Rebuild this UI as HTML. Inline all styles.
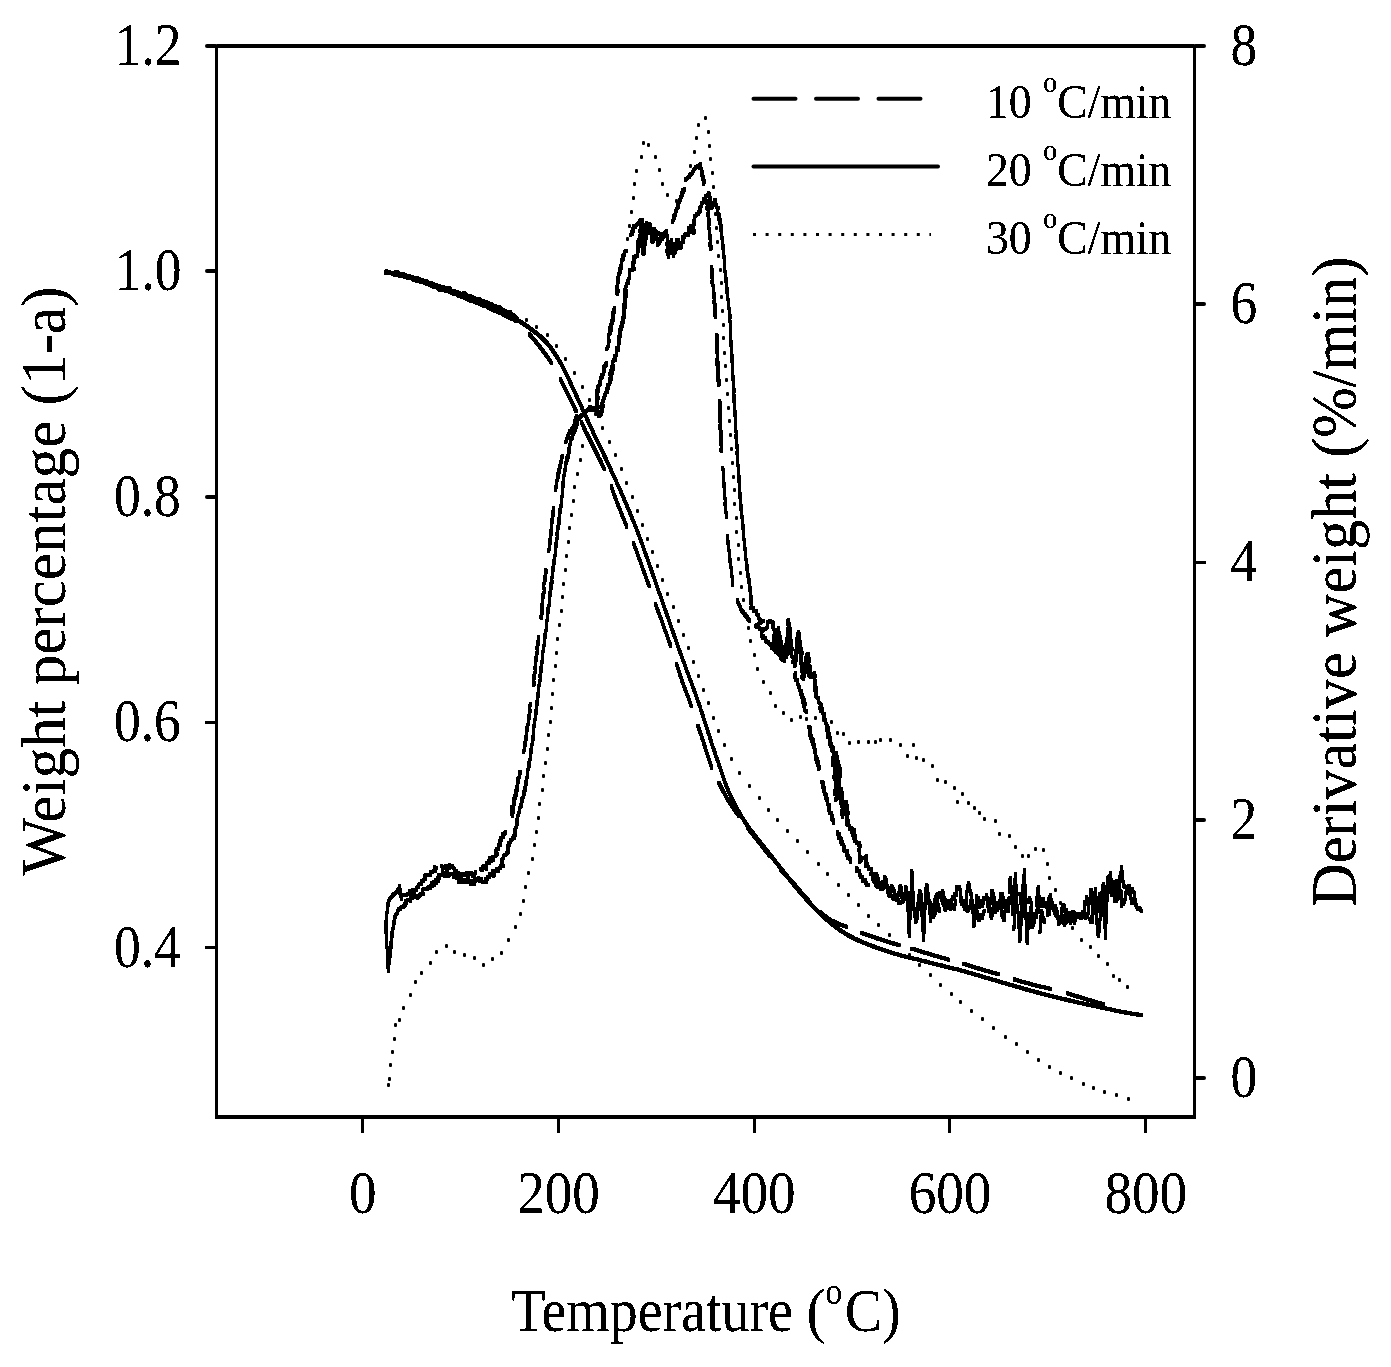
<!DOCTYPE html>
<html><head><meta charset="utf-8"><title>TG/DTG</title>
<style>
html,body{margin:0;padding:0;background:#fff;}
body{width:1391px;height:1367px;overflow:hidden;font-family:"Liberation Serif",serif;}
svg{display:block}
</style></head><body>
<svg width="1391" height="1367" viewBox="0 0 1391 1367">
<rect width="1391" height="1367" fill="#fff"/>
<g stroke="#000" fill="none" stroke-linecap="butt">
<line x1="216.5" y1="46.0" x2="216.5" y2="1119.0" stroke-width="3"/>
<line x1="1194.5" y1="46.0" x2="1194.5" y2="1119.0" stroke-width="3"/>
<line x1="215.0" y1="1117.0" x2="1196.0" y2="1117.0" stroke-width="4"/>
<line x1="216.5" y1="46.0" x2="1194.5" y2="46.0" stroke-width="4"/>
</g>
<g stroke="#000">
<line x1="207" y1="46" x2="215.5" y2="46" stroke-width="4" stroke-linecap="round"/>
<line x1="207" y1="271" x2="215.5" y2="271" stroke-width="4" stroke-linecap="round"/>
<line x1="207" y1="497" x2="215.5" y2="497" stroke-width="4" stroke-linecap="round"/>
<line x1="205" y1="722.5" x2="215.5" y2="722.5" stroke-width="3"/>
<line x1="205" y1="947.5" x2="215.5" y2="947.5" stroke-width="3"/>
<line x1="1195.5" y1="46" x2="1204" y2="46" stroke-width="4" stroke-linecap="round"/>
<line x1="1195.5" y1="304" x2="1204" y2="304" stroke-width="4" stroke-linecap="round"/>
<line x1="1195.5" y1="562.5" x2="1206" y2="562.5" stroke-width="3"/>
<line x1="1195.5" y1="820" x2="1204" y2="820" stroke-width="4" stroke-linecap="round"/>
<line x1="1195.5" y1="1078" x2="1204" y2="1078" stroke-width="4" stroke-linecap="round"/>
</g>
<g stroke="#000" stroke-width="3" stroke-linecap="butt">
<line x1="362.5" y1="1117.0" x2="362.5" y2="1133"/>
<line x1="558.5" y1="1117.0" x2="558.5" y2="1133"/>
<line x1="754.5" y1="1117.0" x2="754.5" y2="1133"/>
<line x1="949.5" y1="1117.0" x2="949.5" y2="1133"/>
<line x1="1145.5" y1="1117.0" x2="1145.5" y2="1133"/>
</g>
<defs><filter id="bw" x="0" y="0" width="100%" height="100%" filterUnits="userSpaceOnUse" color-interpolation-filters="sRGB"><feComponentTransfer><feFuncA type="discrete" tableValues="0 0 1 1 1"/></feComponentTransfer></filter></defs>
<g font-family="'Liberation Serif', serif" fill="#000" filter="url(#bw)">
<text transform="translate(181.5,64.7) scale(0.883,1)" font-size="60.5" text-anchor="end" >1.2</text>
<text transform="translate(181.5,290.1499999999999) scale(0.883,1)" font-size="60.5" text-anchor="end" >1.0</text>
<text transform="translate(180.7,515.5999999999999) scale(0.883,1)" font-size="60.5" text-anchor="end" >0.8</text>
<text transform="translate(180.7,741.05) scale(0.883,1)" font-size="60.5" text-anchor="end" >0.6</text>
<text transform="translate(180.7,966.4999999999999) scale(0.883,1)" font-size="60.5" text-anchor="end" >0.4</text>
<text transform="translate(1230.5,64.6) scale(0.883,1)" font-size="60.5" text-anchor="start" >8</text>
<text transform="translate(1230.5,322.6) scale(0.883,1)" font-size="60.5" text-anchor="start" >6</text>
<text transform="translate(1230.5,580.6) scale(0.883,1)" font-size="60.5" text-anchor="start" >4</text>
<text transform="translate(1230.5,838.6) scale(0.883,1)" font-size="60.5" text-anchor="start" >2</text>
<text transform="translate(1230.5,1096.6) scale(0.883,1)" font-size="60.5" text-anchor="start" >0</text>
<text transform="translate(362.8,1213) scale(0.912,1)" font-size="60.5" text-anchor="middle" >0</text>
<text transform="translate(558.55,1213) scale(0.912,1)" font-size="60.5" text-anchor="middle" >200</text>
<text transform="translate(754.3,1213) scale(0.912,1)" font-size="60.5" text-anchor="middle" >400</text>
<text transform="translate(950.05,1213) scale(0.912,1)" font-size="60.5" text-anchor="middle" >600</text>
<text transform="translate(1145.8,1213) scale(0.912,1)" font-size="60.5" text-anchor="middle" >800</text>
<text transform="translate(706,1331) scale(0.9016,1)" font-size="62" text-anchor="middle">Temperature (<tspan font-size="37" dy="-27.0">o</tspan><tspan dy="27.0" dx="3.0">C)</tspan></text>
<text transform="translate(65,581) rotate(-90) scale(0.97,1)" font-size="63" text-anchor="middle">Weight percentage (1-a)</text>
<text transform="translate(1355.5,581.75) rotate(-90) scale(0.958,1)" font-size="63" text-anchor="middle">Derivative weight (%/min)</text>
<text transform="translate(986,118) scale(0.944,1)" font-size="48.4">10 <tspan font-size="30" dy="-25.8">o</tspan><tspan dy="25.8" dx="0">C/min</tspan></text>
<text transform="translate(986,186) scale(0.944,1)" font-size="48.4">20 <tspan font-size="30" dy="-25.8">o</tspan><tspan dy="25.8" dx="0">C/min</tspan></text>
<text transform="translate(986,254) scale(0.944,1)" font-size="48.4">30 <tspan font-size="30" dy="-25.8">o</tspan><tspan dy="25.8" dx="0">C/min</tspan></text>
</g>
<g stroke="#000" fill="none">
<line x1="753.5" y1="98.7" x2="922" y2="98.7" stroke-width="4" stroke-linecap="round" stroke-dasharray="42 20.5"/>
<line x1="753.5" y1="166.5" x2="938" y2="166.5" stroke-width="4" stroke-linecap="round"/>
<line x1="753" y1="234.6" x2="931" y2="234.6" stroke-width="3" stroke-linecap="butt" stroke-dasharray="3 9.6"/>
</g>
<defs><g id="cv" fill="none" stroke="#000" stroke-width="1" stroke-linejoin="round" stroke-linecap="butt" shape-rendering="crispEdges">
<path d="M385.4 271.7 L387.4 272.2 L389.5 272.6 L391.5 273.1 L393.5 273.6 L395.6 274 L397.6 274.4 L399.7 274.9 L401.7 275.4 L403.7 275.8 L405.8 276.3 L407.8 276.8 L409.8 277.4 L411.9 277.9 L413.9 278.5 L415.9 279.1 L417.8 279.7 L419.8 280.3 L421.7 281 L423.7 281.7 L425.6 282.4 L427.6 283.1 L429.5 283.8 L431.5 284.5 L433.4 285.2 L435.4 286 L437.3 286.7 L439.3 287.4 L441.2 288.1 L443.2 288.8 L445.2 289.5 L447.1 290.2 L449.1 290.8 L451.1 291.5 L453.1 292.2 L455.1 292.9 L457.1 293.6 L459.1 294.3 L461 294.9 L463 295.6 L464.9 296.3 L466.8 297 L468.7 297.6 L470.6 298.3 L472.4 299 L474.5 299.8 L476.6 300.6 L478.6 301.3 L480.6 302.1 L482.6 302.8 L484.6 303.6 L486.5 304.4 L488.5 305.2 L490.4 306 L492.4 306.9 L494.4 307.8 L496.2 308.7 L498.1 309.5 L499.9 310.5 L501.8 311.4 L503.7 312.4 L505.6 313.4 L507.5 314.4 L509.3 315.4 L511.1 316.4 L512.9 317.4 L514.6 318.3 L516.2 319.3 L517.8 320.2 L519.9 321.5 L521.9 322.7 L523.7 323.9 L525.5 325.1 L527.3 326.3 L529.1 327.6 L530.9 329 L532.5 330.2 L534.2 331.5 L535.9 332.8 L537.6 334.2 L539.3 335.6 L540.9 337 L542.5 338.5 L544.1 340 L545.6 341.5 L547 343.1 L548.4 344.7 L549.7 346.4 L551 348.1 L552.3 349.9 L553.5 351.6 L554.7 353.4 L555.9 355.2 L557 357 L558.1 358.8 L559.2 360.6 L560.3 362.5 L561.3 364.4 L562.3 366.3 L563.3 368.2 L564.2 370 L565.1 371.8 L566 373.5 L566.9 375.4 L567.8 377.1 L568.6 378.8 L569.4 380.6 L570.2 382.4 L571.2 384.5 L572 386.1 L572.8 387.8 L573.6 389.7 L574.5 391.6 L575.4 393.6 L576.3 395.6 L577.3 397.7 L578.2 399.8 L579.2 401.9 L580.2 403.9 L581.1 406 L582 408 L582.9 409.9 L583.8 411.8 L584.6 413.7 L585.5 415.5 L586.3 417.4 L587.1 419.2 L588 421 L588.8 422.9 L589.6 424.7 L590.5 426.6 L591.4 428.5 L592.3 430.4 L593.2 432.4 L594 434.2 L594.9 436 L595.8 437.8 L596.7 439.7 L597.6 441.6 L598.5 443.5 L599.4 445.4 L600.3 447.4 L601.3 449.3 L602.2 451.3 L603.2 453.2 L604.1 455.2 L605 457.1 L606 459.1 L606.9 461.1 L607.8 463 L608.7 464.9 L609.5 466.7 L610.4 468.6 L611.3 470.5 L612.1 472.4 L613 474.3 L613.9 476.2 L614.7 478.1 L615.6 480 L616.5 481.9 L617.3 483.8 L618.2 485.7 L619 487.6 L619.9 489.5 L620.7 491.4 L621.6 493.4 L622.4 495.3 L623.2 497.2 L624 499 L624.8 500.9 L625.6 502.8 L626.5 504.7 L627.3 506.6 L628.1 508.5 L628.9 510.4 L629.7 512.3 L630.5 514.2 L631.3 516.1 L632 518 L632.8 519.9 L633.6 521.8 L634.4 523.7 L635.1 525.5 L635.9 527.4 L636.6 529.3 L637.3 531.2 L638.1 533.1 L638.8 535 L639.5 536.9 L640.2 538.8 L640.9 540.7 L641.6 542.6 L642.3 544.5 L643 546.4 L643.7 548.3 L644.3 550.2 L645 552.1 L645.7 554 L646.3 555.8 L647 557.7 L647.6 559.5 L648.3 561.4 L649 563.4 L649.7 565.4 L650.4 567.3 L651.1 569.3 L651.8 571.3 L652.4 573.2 L653.1 575.2 L653.8 577.1 L654.5 579 L655.1 581 L655.8 582.9 L656.5 584.9 L657.1 586.8 L657.8 588.7 L658.5 590.7 L659.2 592.7 L659.9 594.6 L660.6 596.6 L661.2 598.5 L661.9 600.5 L662.6 602.4 L663.3 604.4 L664 606.3 L664.7 608.3 L665.4 610.2 L666.1 612.2 L666.7 614.1 L667.4 616.1 L668.1 618 L668.8 620 L669.5 621.9 L670.2 623.9 L670.8 625.9 L671.5 627.8 L672.2 629.8 L672.9 631.7 L673.6 633.7 L674.2 635.6 L674.9 637.6 L675.6 639.5 L676.3 641.5 L676.9 643.4 L677.6 645.3 L678.3 647.3 L679 649.2 L679.7 651.2 L680.4 653.2 L681.2 655.2 L681.9 657.2 L682.6 659.2 L683.4 661.2 L684.1 663.1 L684.8 665.1 L685.6 667.1 L686.3 669.1 L687 671.1 L687.7 673 L688.5 675 L689.2 677 L689.9 679 L690.7 681 L691.4 682.9 L692.1 684.9 L692.8 686.9 L693.6 688.9 L694.3 690.8 L695 692.8 L695.7 694.8 L696.4 696.8 L697.2 698.8 L697.9 700.8 L698.6 702.8 L699.3 704.9 L700 706.8 L700.6 708.8 L701.2 710.7 L701.9 712.7 L702.5 714.6 L703.2 716.6 L703.8 718.6 L704.4 720.6 L705.1 722.6 L705.7 724.6 L706.3 726.6 L706.9 728.6 L707.6 730.6 L708.2 732.6 L708.9 734.5 L709.5 736.5 L710.2 738.5 L710.9 740.6 L711.5 742.7 L712.2 744.7 L712.9 746.8 L713.6 748.8 L714.3 750.9 L715 752.9 L715.6 755 L716.3 757 L717 759 L717.7 761 L718.4 762.9 L719 764.9 L719.7 766.8 L720.4 768.9 L721.2 771.1 L721.9 773.2 L722.6 775.2 L723.3 777.3 L724 779.3 L724.7 781.4 L725.4 783.4 L726.2 785.4 L726.9 787.3 L727.7 789.3 L728.5 791.2 L729.4 793.2 L730.2 795.1 L731.1 797 L732.1 799 L733 800.8 L733.9 802.7 L734.9 804.6 L735.9 806.4 L736.8 808.2 L737.8 810 L738.8 811.7 L739.9 813.6 L741 815.5 L742.1 817.3 L743.2 819.1 L744.3 820.9 L745.5 822.6 L746.6 824.3 L747.8 826.1 L749 827.8 L750.2 829.5 L751.5 831.2 L752.8 832.9 L754.1 834.5 L755.4 836.2 L756.7 837.9 L758.1 839.5 L759.4 841.1 L760.7 842.8 L762 844.4 L763.3 846.1 L764.6 847.7 L765.9 849.4 L767.2 851 L768.5 852.6 L769.8 854.3 L771.1 855.9 L772.4 857.6 L773.7 859.3 L775.1 861 L776.4 862.7 L777.7 864.4 L779.1 866.2 L780.4 867.9 L781.8 869.7 L783.2 871.4 L784.6 873.2 L785.9 874.8 L787.2 876.4 L788.5 878.1 L789.8 879.7 L791.2 881.4 L792.5 883 L793.9 884.7 L795.2 886.4 L796.6 888 L797.9 889.6 L799.3 891.2 L800.7 892.9 L802.2 894.5 L803.6 896.2 L805.1 897.8 L806.5 899.4 L808 901 L809.5 902.6 L810.9 904.2 L812.4 905.8 L813.9 907.3 L815.3 908.8 L816.8 910.2 L818.2 911.7 L819.7 913.1 L821.1 914.5 L822.6 915.9 L824 917.3 L825.5 918.6 L827 919.9 L828.5 921.2 L830.1 922.5 L831.7 923.8 L833.3 925.1 L834.9 926.4 L836.6 927.6 L838.2 928.8 L839.9 930 L841.5 931.1 L843.2 932.2 L845 933.3 L846.8 934.4 L848.6 935.5 L850.4 936.5 L852.3 937.4 L854.1 938.4 L856 939.3 L857.8 940.2 L859.9 941.1 L861.9 942 L864 942.9 L866.1 943.7 L868.2 944.5 L870.3 945.3 L872.4 946.1 L874.5 946.9 L876.6 947.6 L878.6 948.4 L880.7 949.1 L882.8 949.8 L884.9 950.5 L887 951.2 L889.1 951.9 L891.2 952.5 L893.3 953.2 L895.4 953.8 L897.5 954.4 L899.6 955 L901.7 955.6 L903.8 956.2 L905.9 956.7 L908 957.2 L910 957.7 L912.1 958.2 L914.2 958.7 L916.3 959.2 L918.4 959.7 L920.5 960.3 L922.6 960.8 L924.6 961.3 L926.7 961.8 L928.8 962.4 L930.9 962.9 L933 963.4 L935.1 964 L937.2 964.5 L939.3 965 L941.4 965.5 L943.5 966.1 L945.6 966.6 L947.7 967.1 L949.7 967.6 L951.8 968.1 L953.8 968.6 L955.9 969.1 L958 969.6 L960.2 970.2 L962 970.7 L963.8 971.2 L965.7 971.7 L967.6 972.3 L969.5 972.8 L971.4 973.4 L973.4 974 L975.4 974.6 L977.5 975.2 L979.6 975.8 L981.4 976.3 L983.2 976.9 L985.1 977.4 L987 978 L988.9 978.5 L990.9 979.1 L992.9 979.7 L994.9 980.3 L996.9 980.9 L998.9 981.5 L1000.9 982.1 L1002.9 982.7 L1004.9 983.3 L1006.9 983.8 L1008.9 984.4 L1010.9 985 L1012.8 985.5 L1014.8 986.1 L1016.7 986.7 L1018.7 987.2 L1020.6 987.8 L1022.6 988.3 L1024.5 988.9 L1026.5 989.5 L1028.4 990 L1030.4 990.6 L1032.3 991.1 L1034.3 991.6 L1036.2 992.2 L1038.2 992.7 L1040.1 993.2 L1042.1 993.7 L1044 994.2 L1046 994.7 L1047.9 995.2 L1049.9 995.7 L1051.8 996.2 L1053.8 996.7 L1055.7 997.2 L1057.7 997.7 L1059.6 998.1 L1061.6 998.6 L1063.5 999.1 L1065.5 999.5 L1067.4 1000 L1069.5 1000.5 L1071.6 1001 L1073.6 1001.5 L1075.7 1001.9 L1077.8 1002.4 L1079.9 1002.9 L1082 1003.3 L1084.1 1003.8 L1086.2 1004.2 L1088.2 1004.7 L1090.3 1005.1 L1092.4 1005.6 L1094.5 1006.1 L1096.6 1006.5 L1098.6 1006.9 L1100.6 1007.4 L1102.6 1007.8 L1104.7 1008.2 L1106.7 1008.7 L1108.8 1009.1 L1110.8 1009.5 L1112.9 1010 L1114.9 1010.4 L1116.8 1010.8 L1118.8 1011.2 L1120.7 1011.6 L1122.5 1011.9 L1124.3 1012.3 L1126 1012.6 L1128.2 1013 L1130.3 1013.4 L1132.3 1013.7 L1134.3 1014 L1136.2 1014.3 L1138.1 1014.6 L1140 1014.9 L1142 1015.2" stroke-linecap="butt"/>
<path d="M385.7 270.8 L387.8 271.1 L389.7 272 L391.9 272.1 L394 272.4 L396.6 271.3 L398.4 272.5 L400 274.1 L402.6 273 L404.2 274.5 L406.2 275.2 L408.2 275.9 L410.4 276 L412.3 276.8 L414.2 277.7 L416.5 277.5 L418.3 278.4 L420.2 279.1 L422.3 279.6 L424.1 280.5 L426.5 280.1 L428 282.1 L429.9 282.8 L432.1 282.8 L433.9 283.9 L435.8 284.8 L437.9 285.1 L439.8 286 L441.8 286.6 L443.9 286.9 L445.7 288 L448.1 287.8 L450.2 288.1 L451.6 290.2 L453.8 290.4 L455.7 291.3 L457.7 291.9 L459.7 292.6 L461.6 293.6 L464.2 292.5 L465.8 294.1 L467.5 295.4 L469.4 295.9 L471.5 296 L473.1 297.3 L475.1 298.2 L477.6 298.1 L479.6 298.8 L481.3 300.3 L483.6 300.4 L485.3 301.8 L487.5 302 L489.3 303.1 L491.3 303.9 L493.2 304.9 L495.2 305.8 L497.1 306.4 L499.2 306.7 L500.9 308.1 L502.7 309.2 L504.6 310.1 L506.5 311 L508.4 311.9 L510.8 311.5 L511.9 314.4 L513.8 315 L515.4 316.3 L516.8 317.8 L518.4 318.7 L517.1 322 L515.5 321.2 L514 319.9 L512.1 319.4 L510.3 318.5 L508.3 317.9 L506.5 316.9 L504.6 316 L502.9 314.6 L501 313.6 L498.9 313.2 L497.1 312 L495.1 311.6 L493.3 310.6 L491.4 309.6 L489.5 308.5 L487.4 307.9 L485.8 306.3 L483.6 306.2 L481.7 305.1 L479.8 304.3 L477.9 303.1 L475.7 303 L473.8 301.6 L471.3 301.8 L469.7 300.6 L467.9 299.9 L466.1 298.9 L464.3 297.9 L462.3 297.5 L460.3 296.8 L458.3 296.3 L456.6 294.9 L454.3 294.9 L452.5 293.7 L450.6 292.8 L448.7 292 L446.6 291.5 L444.7 290.7 L442.5 290.7 L440.2 290.7 L438.5 289.3 L436.9 287.7 L434.9 287.2 L432.7 287.1 L431 285.7 L429 285.2 L427.1 284.4 L425.3 283.3 L423.3 282.6 L421.1 282.6 L419.4 281.2 L417.2 281.3 L415.3 280.5 L413.3 280 L411.5 278.8 L409.2 279 L407.3 278 L405.2 277.7 L403.4 276.8 L401.4 276.1 L399.2 276.1 L397.3 275.4 L395 275.4 L393.1 274.7 L391.2 273.8 L389.2 273.3 L387.2 272.8 L384.6 273.8Z" fill="#000" stroke="none"/>
<path d="M386.4 271.9 L388.3 272.4 L390.3 272.8 L392.3 273.3 L394.2 273.7 L396.2 274.1 L398.2 274.6 L400.1 275 L401.1 275.2 M417.7 279.7 L419.6 280.3 L421.5 280.9 L423.4 281.6 L425.2 282.2 L427.1 282.9 L429 283.6 L430.9 284.3 L432.8 285 L434.7 285.7 L436.6 286.4 L438.5 287.1 L440.4 287.8 L442.3 288.5 L444.2 289.1 L446.1 289.8 L448.1 290.5 L450.1 291.2 L452.1 291.9 L454.1 292.6 L456.1 293.2 L458.1 293.9 L459.1 294.3 M475.4 300.1 L477.4 300.9 L479.3 301.6 L481.2 302.3 L483.1 303 L485 303.7 L486.9 304.5 L488.7 305.3 L490.6 306.1 L492.5 306.9 L494.4 307.8 L496.2 308.7 L498.1 309.6 L500 310.5 L502 311.4 L503.9 312.4 L505.9 313.4 L507.8 314.4 L509.6 315.4 L511.4 316.5 L513.2 317.5 L514.8 318.6 L516.4 319.7 L517.1 320.2 M528.6 333.3 L530 334.8 L531.3 336.4 L532.6 337.9 L534 339.5 L535.3 341.1 L536.7 342.8 L538 344.5 L539.3 346.1 L540.6 347.8 L541.8 349.4 L543.1 351.1 L544.3 352.8 L545.6 354.5 L546.8 356.2 L548.1 357.9 L549.2 359.6 L550.4 361.3 L551.5 363 L552 363.8 M560.2 379.1 L561.1 380.8 L562 382.6 L563 384.4 L563.9 386.2 L564.8 388.1 L565.7 389.9 L566.7 391.8 L567.6 393.7 L568.5 395.6 L569.5 397.4 L570.4 399.3 L571.3 401.2 L572.2 403.2 L573.2 405.1 L574.1 407.1 L575 409 L575.9 410.9 L576.4 411.8 M581.1 421.8 L581.9 423.6 L582.8 425.3 L583.6 427.1 L584.5 429 L585.4 430.8 L586.2 432.5 L587.1 434.3 L588 436.1 L588.9 437.9 L589.9 439.7 L590.8 441.6 L591.8 443.5 L592.7 445.4 L593.6 447.2 L594.5 449.1 L595.5 450.9 L596.4 452.8 L597.3 454.7 L598.3 456.6 L599.2 458.5 L600.2 460.4 L601.1 462.3 L602 464.2 L602.9 466.1 L603.7 467.9 L604.5 469.6 L604.5 469.6 M611.1 486 L611.8 487.9 L612.4 489.8 L613.1 491.7 L613.8 493.7 L614.5 495.7 L615.3 497.8 L616.1 500 L616.7 501.7 L617.4 503.5 L618.2 505.4 L619 507.3 L619.8 509.3 L620.6 511.3 L621.4 513.4 L622.2 515.5 L623.1 517.5 L623.9 519.5 L624.7 521.5 L625.4 523.4 L626.2 525.2 L626.9 526.9 L626.9 526.9 M633.2 542.5 L633.9 544.3 L634.6 546.1 L635.3 547.9 L636 549.8 L636.7 551.7 L637.4 553.7 L638.1 555.6 L638.8 557.6 L639.6 559.6 L640.3 561.5 L641 563.5 L641.7 565.4 L642.4 567.4 L643.1 569.4 L643.8 571.4 L644.6 573.4 L645.3 575.4 L646 577.5 L646.7 579.4 L647.4 581.4 L648.1 583.3 L648.8 585.2 L649.4 586.9 L649.4 586.9 M655.2 603.3 L655.9 605.1 L656.5 606.9 L657.2 608.8 L657.9 610.7 L658.7 612.7 L659.4 614.6 L660.1 616.6 L660.9 618.6 L661.6 620.6 L662.3 622.6 L663 624.5 L663.7 626.5 L664.4 628.5 L665.1 630.5 L665.9 632.5 L666.6 634.5 L667.3 636.5 L668 638.5 L668.7 640.5 L669.4 642.4 L670.1 644.3 L670.7 646.1 L670.7 646.1 M676.4 663.3 L677 665.3 L677.6 667.2 L678.2 669.1 L678.8 671.1 L679.4 673 L680 675 L680.7 677 L681.4 679 L682 680.9 L682.7 682.9 L683.5 684.9 L684.2 686.9 L685 689 L685.8 691 L686.6 693 L687.3 694.9 L688 696.7 L688.6 698.4 L689.2 700 L690 702.1 L690.6 704 L691.2 705.7 L691.5 706.7 M697.7 725 L698.3 726.8 L698.9 728.7 L699.6 730.6 L700.2 732.6 L700.9 734.5 L701.5 736.5 L702.2 738.5 L702.9 740.5 L703.5 742.5 L704.2 744.5 L704.8 746.5 L705.5 748.5 L706.1 750.5 L706.8 752.6 L707.4 754.7 L708.1 756.8 L708.8 758.8 L709.4 760.9 L710.1 762.8 L710.7 764.8 L711.4 766.6 L712.1 768.4 L712.1 768.4 M718.7 782.5 L719.6 784.3 L720.5 786.1 L721.4 787.9 L722.4 789.8 L723.4 791.7 L724.4 793.6 L725.4 795.4 L726.4 797.3 L727.5 799.1 L728.5 800.9 L729.6 802.6 L730.8 804.4 L732 806.2 L733.2 807.9 L734.4 809.6 L735.6 811.3 L736.8 812.9 L737.9 814.5 L739 816.1 L739 816.1 M747.4 827.5 L748.5 829 L749.7 830.5 L750.9 832.1 L752.2 833.7 L753.5 835.3 L754.8 836.9 L756.1 838.5 L757.4 840.2 L758.6 841.8 L759.8 843.3 L761.1 844.9 L762.4 846.5 L763.7 848.1 L764.9 849.7 L766.2 851.4 L767.5 852.9 L768.7 854.5 L769.9 856 L770.4 856.8 M780.4 870 L781.7 871.4 L783.2 872.9 L784.6 874.3 L786.1 875.7 L787.6 877.2 L789.1 878.7 L790.7 880.2 L792.1 881.7 L793.4 883.3 L794.8 884.8 L796.1 886.4 L797.5 888.1 L798.8 889.7 L800.2 891.4 L801.6 893 L802.9 894.6 L804.3 896.1 L805.7 897.7 L807.2 899.2 L808.6 900.8 L808.6 900.8 M819.6 911.5 L821.3 913 L822.9 914.4 L824.5 915.8 L826.1 917.1 L827.7 918.2 L829.4 919.4 L831.3 920.5 L833.2 921.4 L835.1 922.3 L837 923.2 L839 924 L841 924.8 L843.1 925.5 L845.1 926.2 L847.2 926.9 L847.2 926.9 M860.8 932.5 L862.6 933.2 L864.4 933.9 L866.3 934.5 L868.2 935.2 L870.2 935.9 L872.1 936.6 L874.1 937.3 L876.1 938 L878.1 938.7 L880 939.3 L882 939.9 L884 940.6 L886 941.2 L888.1 941.9 L890.1 942.5 L892.1 943.1 L894.1 943.7 L896 944.3 L897.8 944.8 L898.6 945.1 M911.4 948.5 L913.1 949.1 L915 949.6 L916.9 950.2 L918.9 950.8 L920.9 951.4 L922.9 952.1 L925 952.7 L927 953.3 L929 953.9 L931 954.5 L933 955.1 L935.1 955.7 L937.1 956.3 L939.2 956.9 L941.3 957.5 L943.3 958.1 L945.3 958.7 L947.2 959.2 L949.1 959.7 L949.1 959.7 M963.1 963.6 L965 964.2 L966.9 964.8 L968.9 965.4 L970.8 966.1 L972.8 966.7 L974.9 967.4 L976.9 968 L979 968.7 L981 969.3 L982.9 969.9 L984.9 970.4 L986.9 971 L989 971.6 L991 972.1 L993 972.7 L995 973.2 L996.9 973.8 L998.8 974.3 L998.8 974.3 M1013.8 979.3 L1015.7 979.9 L1017.7 980.4 L1019.7 981 L1021.7 981.6 L1023.7 982.2 L1025.8 982.7 L1027.9 983.3 L1030 983.9 L1032 984.4 L1034 984.9 L1036 985.4 L1038 985.9 L1040 986.4 L1042 986.9 L1044.1 987.3 L1046 987.8 L1048 988.3 L1049.9 988.7 L1050.8 989 M1066.5 993.2 L1068.3 993.7 L1070.2 994.3 L1072.2 994.8 L1074.1 995.4 L1076.1 996.1 L1078.1 996.7 L1080.1 997.3 L1082.1 997.9 L1084 998.5 L1086 999.1 L1087.9 999.7 L1089.9 1000.3 L1091.8 1000.8 L1093.8 1001.4 L1095.7 1002 L1097.7 1002.6 L1099.6 1003.2 L1101.6 1003.7 L1103.5 1004.3 L1103.5 1004.3"/>
<path d="M388.2 971.2 L388 969.8 L389.1 968.4 L388.4 967 L389.1 965.6 L388.7 964.2 L389.5 962.8 L389 961.4 L389.9 960.1 L389.4 958.5 L389.9 957.1 L390.5 955.8 L389.7 954.2 L390.4 952.8 L390.7 951.4 L390.6 950 L390.4 948.7 L391.2 947.4 L390.6 945.9 L391.3 944.6 L390.7 943.2 L391.7 941.9 L391.8 940.6 L391.7 939.2 L391 937.8 L392 936.5 L392.1 935.1 L391.6 933.7 L392.4 932.5 L392.7 931.2 L392.4 929.7 L393 928.5 L393.6 927.2 L393.4 925.8 L393 924.3 L394.3 923.2 L393.8 921.7 L394.6 920.5 L394.2 919 L394.4 917.6 L395.9 916.7 L395.7 915.1 L396.4 913.8 L397.9 913 L397.9 911.5 L398.1 909.9 L398.9 908.7 L400.9 908.8 L401.1 906.9 L402.9 907.2 L403.6 906 L405.2 905.5 L404.8 903.7 L406.2 902.9 L405.1 900.6 L406.9 900.6 L408.1 899.5 L410.5 900.5 L410.2 897.5 L412.4 898.1 L412.4 895.8 L413.7 895.1 L415 897.1 L416.3 895.9 L417.7 897.8 L418.9 896.5 L419.9 895.1 L420.7 893.9 L423.1 894.1 L422 891.3 L422.6 890 L423.8 888.7 L425.9 889 L427.3 888.8 L428.2 887 L430.4 888.3 L430.2 885.7 L432.4 886.2 L431.3 883.4 L434.4 884.6 L433.7 881.9 L436.3 882.5 L435.8 879.8 L439.2 881.1 L437.5 878.3 L440.1 878.3 L438.1 875 L440.2 875.5 L441.3 875 L442.6 875.1 L444.9 875.9 L442.9 872.5 L446.5 873.8 L446.2 872.9 L448 870.7 L447 874.8 L448.5 875.9 L450.5 874.1 L451.8 874.3 L453.8 873.9 L453.2 877.3 L455.6 875.7 L456.7 876.4 L457.1 878.4 L457.8 878.5 L460.9 878.2 L457.9 881.4 L459.2 882.3 L461.1 882.2 L462 881.2 L463.4 882.2 L463.5 880.2 L466.2 881.7 L466.4 880.2 L467.2 879.7 L468.7 878.5 L469 880.3 L469.2 881.7 L472.1 880.7 L470.4 884.6 L472.8 882.1 L474.6 884.8 L473.8 881.5 L475.5 881.4 L475.3 879.5 L477 880.5 L478.2 878 L479.1 881 L481.6 878.9 L481.7 881 L482.4 882.4 L484 881.6 L486.5 882.4 L485.2 878.7 L487.5 878.6 L487.6 876.7 L489.9 877.2 L489.1 874.2 L490.3 873.8 L493.6 875.7 L494.4 874.5 L492.7 871 L494.3 870.8 L495.8 871.1 L496.3 869.2 L498.7 871.2 L498.8 868.9 L499.4 867.8 L500.9 867.6 L500.6 866 L503.2 865.7 L501.6 863.9 L502.8 862.7 L501.7 861.2 L501.6 859.9 L502.9 858.8 L503.4 857.8 L503.6 856.8 L503.9 855.6 L504.9 855 L506 854.3 L506.7 853 L508.3 852.1 L507.3 850.3 L508.6 849 L507.9 847.3 L507.9 845.8 L509.6 844.6 L508.9 842.9 L510.7 842 L510.5 840.2 L512 839.6 L512.2 838 L514.3 837.6 L513.5 835.8 L515 834.8 L514.1 833.2 L515.1 832 L514.2 830.5 L516.2 829.5 L515.5 828 L516.6 826.8 L516.5 825.4 L517.1 824.1 L516.4 822.6 L517.5 821.4 L516.6 819.7 L517.8 818.6 L517.8 817.1 L518 815.7 L518.8 814.4 L518.4 812.8 L519.8 811.7 L519.7 810.2 L519.8 808.7 L520 807.3 L521.3 806.1 L520.8 804.5 L521.6 803.3 L521.6 801.9 L522.5 800.7 L521.9 799.1 L522.5 797.8 L523.6 796.6 L523.6 795.2 L524.3 793.9 L523.7 792.3 L524.1 791 L525.2 789.8 L524.9 788.3 L525.5 786.9 L525.3 785.4 L526.2 784.1 L525.6 782.6 L526.1 781.2 L526.8 779.9 L526.3 778.4 L527.4 777.1 L527.1 775.6 L527.7 774.3 L527.9 772.8 L527.9 771.4 L527.9 769.9 L529 768.7 L528.5 767.1 L529.2 765.8 L528.7 764.3 L528.9 762.9 L530 761.6 L529.5 760.1 L530.3 758.7 L530.7 757.3 L530.4 755.8 L531.1 754.5 L530.5 753 L531.2 751.6 L530.9 750.1 L531.2 748.8 L532.1 747.5 L531.4 746 L531.9 744.6 L532.3 743.3 L532.8 741.9 L532 740.5 L533.2 739.2 L532.3 737.7 L533.1 736.4 L533.7 735 L532.9 733.5 L533.9 732.3 L533.2 730.8 L533.6 729.4 L533.6 728 L533.7 726.6 L534.5 725.3 L534.1 723.9 L535.1 722.6 L534.3 721.1 L534.8 719.7 L535.5 718.4 L535.5 717 L535.7 715.6 L535.4 714.1 L536.3 712.8 L535.6 711.3 L536.3 709.9 L536.4 708.5 L536.6 707.1 L536.7 705.7 L537.2 704.3 L536.8 702.8 L537 701.4 L537 699.9 L537.8 698.6 L537.7 697.2 L538.1 695.8 L537.9 694.3 L538.3 692.9 L538.3 691.5 L539 690.1 L538.4 688.6 L538.7 687.2 L538.6 685.8 L539.7 684.4 L539.8 683 L539.3 681.6 L540.2 680.3 L540.3 678.9 L540.5 677.5 L539.8 676 L541 674.7 L540.8 673.3 L540.6 671.9 L541.4 670.5 L540.7 669 L540.8 667.6 L541.4 666.3 L541.9 665 L541.9 663.5 L542 662.1 L542.4 660.8 L542.7 659.4 L542.3 658 L543.1 656.6 L542.6 655.2 L543 653.8 L542.7 652.3 L543.4 651 L543.6 649.6 L543.1 648.1 L543.8 646.8 L544.1 645.4 L544.5 644 L544 642.5 L544.5 641.1 L544.1 639.6 L544.7 638.3 L545.3 636.9 L544.6 635.4 L545.5 634.1 L545.4 632.6 L545.9 631.3 L546.2 629.9 L546 628.4 L546.6 627 L546 625.5 L546.1 624.1 L546.8 622.8 L546.4 621.3 L547.5 620 L547.2 618.5 L547.5 617.1 L547.1 615.7 L547.4 614.3 L548 612.9 L548.5 611.6 L548.2 610.1 L547.9 608.7 L548.7 607.4 L548.5 605.9 L549.4 604.6 L549.4 603.2 L549.1 601.7 L549.9 600.4 L549.1 598.9 L550.1 597.6 L549.4 596.1 L550.1 594.8 L549.7 593.3 L550.9 592 L550.2 590.5 L550.6 589.2 L551.2 587.8 L550.9 586.4 L551 585 L550.9 583.5 L552.1 582.3 L551.3 580.7 L551.9 579.4 L551.5 577.9 L552.7 576.6 L552.3 575.2 L552.1 573.7 L552.4 572.3 L553 571 L553.3 569.6 L552.7 568.1 L553.7 566.8 L554 565.4 L553.5 563.9 L554.2 562.6 L553.6 561.1 L554.5 559.8 L554.5 558.3 L554.1 556.9 L555.1 555.5 L555.1 554.1 L555.6 552.8 L555.6 551.3 L555.8 549.9 L555.3 548.4 L555.4 546.9 L556.3 545.6 L555.7 544.1 L556.6 542.7 L556 541.2 L556.4 539.8 L557.2 538.5 L557.5 537.1 L557.6 535.6 L556.9 534.1 L557.4 532.7 L557.5 531.3 L557.5 529.8 L558.1 528.4 L557.9 527 L558.6 525.6 L558.2 524.1 L559.3 522.8 L559.2 521.4 L558.8 519.9 L559.1 518.4 L559.4 517 L559.7 515.6 L559.7 514.2 L559.6 512.7 L560.5 511.4 L559.9 509.9 L560.3 508.5 L560.6 507.1 L561.1 505.7 L561.3 504.3 L561 502.8 L561.6 501.4 L561.5 500 L561.3 498.6 L561.7 497.2 L562.5 495.9 L561.9 494.4 L562.4 493 L562 491.6 L562.8 490.3 L562.2 488.8 L562.5 487.4 L563.3 486.1 L562.7 484.6 L562.9 483.2 L563.7 481.9 L563.3 480.5 L564 479.1 L563.8 477.7 L563.4 476.2 L564.5 474.9 L564.9 473.5 L565 472.1 L564.6 470.5 L565.6 469.2 L565 467.6 L565.9 466.3 L565.9 464.8 L565.8 463.3 L566.9 462.1 L566.7 460.7 L567.4 459.5 L566.9 458.1 L568.1 457 L567.8 455.6 L568.6 454.5 L568.2 452.9 L569.2 451.6 L568.7 450 L568.8 448.6 L569.9 447.3 L569.4 445.7 L570.1 444.4 L570.5 443 L571 441.6 L570.8 440.2 L571 438.8 L572.4 437.9 L572.4 436.4 L572.6 435.1 L573.6 434 L573.7 432.6 L574.7 431.5 L575.1 430.2 L575.8 429.1 L575.6 427.6 L576.5 426.4 L577 425 L577.3 423.7 L577.1 422.2 L577.9 421 L577.6 419.4 L579.1 418.6 L579.9 417.2 L581 416.2 L581.9 414.9 L583.4 414.3 L584 412.8 L585.3 412.1 L586.1 410.8 L587.6 410.2 L588.7 409.2 L589.2 407.7 L590 406.2 L590.6 407.8 L591 409.1 L592.9 409.2 L593.2 410.1 L593.9 409.8 L594.9 409.4 L595.7 409.7 L596.8 410.1 L597.2 411.6 L596.6 413.4 L598.1 414.3 L598.8 415.5 L599.1 416.7 L599.5 415.6 L599.9 414.7 L602 414.3 L600.5 412.4 L602.3 411.4 L601.6 409.9 L602.9 408.7 L601.2 407.1 L603.2 405.9 L601.7 404.4 L602.5 403.1 L601.9 401.6 L603.6 400.8 L604 399.5 L603.6 398 L605 397.2 L604.6 395.4 L605.9 394.4 L605.5 392.6 L607.1 391.8 L606.7 390.3 L606.6 389 L608.4 388.2 L607.3 386.5 L607.7 385.3 L609.2 384.1 L609.8 382.7 L610.4 381.4 L609.5 379.5 L611.5 378.5 L610.3 376.8 L612 375.7 L610.3 374.1 L612.3 373 L610.7 371.4 L611.2 370.1 L612.9 368.9 L611.8 367.4 L613.3 366.2 L612.3 364.7 L612.8 363.4 L612.8 361.7 L613.7 360.4 L615.9 359.6 L615.2 357.8 L615 356.2 L616.7 355.2 L616.6 353.6 L616.2 352 L616.9 350.7 L618.7 349.6 L617 347.9 L618.9 346.8 L618.8 345.4 L618.2 344 L619.4 342.8 L618 341.2 L618.5 339.9 L620 338.7 L619 337.2 L620.5 336 L618.9 334.4 L620.2 333.2 L620.9 331.9 L619.8 330.3 L621.2 329.1 L620.5 327.5 L622.3 326.5 L621.3 324.7 L621.6 323.3 L623.3 322.3 L622.3 320.6 L624 319.5 L623 317.9 L624.7 316.7 L624.3 315.2 L623.2 313.8 L623.9 312.4 L624.7 311.1 L624 309.6 L623.8 308.2 L625.5 306.9 L623.8 305.4 L624.4 304.1 L625.2 302.7 L625.9 301.3 L625 299.9 L625.9 298.5 L624.6 297 L626.2 295.7 L624.8 294.1 L625.3 292.7 L626.6 291.4 L624.8 289.8 L625.5 288.4 L625.8 287 L626.8 285.7 L626.1 284 L628.3 283.1 L627.6 281.3 L628.3 280 L629 278.6 L629.7 277.3 L629.4 275.7 L630.1 274.3 L629 272.7 L630.1 271.5 L629.7 269.7 L631.8 270.3 L632.9 269.8 L634 268.9 L632.6 267.1 L633.4 265.8 L633.3 264.4 L633 263 L634.6 261.8 L634.1 260.4 L633.4 258.8 L633.5 257.3 L635.5 257.4 L635.7 255.9 L637.8 255.9 L638 254.3 L637.2 252.6 L638.1 251.3 L638.3 249.8 L638.2 248.4 L637.5 246.9 L638.6 245.5 L638.7 244.1 L637.1 242.5 L638.7 241.4 L638.3 239.9 L639.8 239.3 L641 238.4 L639.4 236.6 L640.8 235.4 L640.2 233.9 L641 232.6 L640.1 231.1 L641.6 229.8 L641.2 228.4 L640.5 227 L641.2 225.6 L641.8 224.3 L641.9 222.9 L641.1 221.5 L640.8 220.1 L641 219.3 L642.1 220.1 L642 221.5 L640.9 223.1 L642.5 224.4 L641.1 225.9 L641.8 227.3 L641.1 228.8 L642.8 230.2 L641.8 231.7 L642.6 233.1 L642.1 234.6 L641.8 236 L641.7 237.5 L643.2 238.8 L643.1 240.2 L641.6 241.7 L643.6 243.1 L643.5 244.5 L642 246 L643.6 247.3 L643.3 248.8 L642.7 250.3 L644.1 251.6 L642.6 253.2 L643.3 253.9 L644.4 253.3 L643.6 251.7 L644.2 250.3 L644.5 248.9 L644.6 247.5 L644.8 246.1 L643.9 244.5 L645.7 243.3 L644.4 241.7 L646.1 240.5 L644.8 238.9 L646.3 237.6 L645.5 236.1 L646.8 234.8 L646 233.4 L645.1 232.1 L645.1 230.7 L646.7 229.5 L646.9 228.1 L647.1 226.8 L645.8 225.4 L646.7 224.3 L646.7 223.6 L647.5 224.2 L648.9 224.3 L650.5 224.8 L649.9 226.4 L650.9 227.5 L650.2 228.9 L652 230 L650.4 231.6 L651.2 232.9 L651.3 234.2 L651.8 235.5 L652.2 236.8 L651.4 238.3 L652 239.6 L651.6 241.1 L652.5 242 L653.1 240.9 L653.7 239.5 L652.4 237.8 L654.2 236.6 L652.7 234.9 L654.1 233.7 L653.9 232.2 L654.9 230.9 L654.5 229.4 L654.5 228.2 L653.9 229.6 L654.1 230.8 L656.1 231.8 L655.7 233.3 L654.9 234.9 L656.7 236 L655.8 237.6 L656.5 238.8 L657.7 240 L656.9 241.6 L657.8 242.7 L657.5 244.8 L658.8 243.7 L659.5 242.3 L660.2 241.2 L659.6 239.4 L661 238.7 L661 237.2 L661.8 236.2 L662.4 234.9 L663.3 233.8 L665.2 233.7 L665.5 232.3 L666.4 230.8 L666.3 232.4 L665.7 233.9 L666 235.3 L667.6 236.6 L667.3 238.1 L667.1 239.5 L667.1 241 L667.2 242.4 L666.8 243.8 L668.2 245.2 L668.2 246.6 L667.2 248.1 L667.9 249.5 L667 251 L668.6 252.3 L667.5 253.8 L668.9 255 L668.2 257.1 L669.1 255.4 L668.6 253.8 L669.9 252.7 L669.1 251.1 L669.6 249.8 L669.4 248.3 L670.6 247.1 L671.2 245.8 L670.6 244.3 L671.6 243.1 L671.2 241.6 L671.4 239.8 L670.8 241.8 L671.1 243.1 L672.3 244.3 L672.4 245.7 L671.9 247.2 L673.2 248.5 L671.9 250 L673.9 251.2 L672.7 252.8 L673.8 253.9 L673.5 256.1 L673.4 253.9 L674.6 252.9 L675.2 251.6 L674.5 250 L676 248.9 L675.5 247.3 L676.7 246.2 L675.6 244.5 L676.9 243.3 L676.4 241.8 L676.7 240.3 L677.7 239.9 L678.2 240.3 L678.9 241.6 L678.1 243.1 L679.6 244.1 L678.3 245.8 L680.3 246.6 L679.5 248.3 L680.1 248.6 L680.7 248.2 L681.1 246.9 L680.6 245.3 L681.8 244.2 L681.5 242.8 L683.2 241.8 L682.4 240.2 L683.9 239.2 L682.6 237.5 L684.4 236.7 L684.4 235.3 L685.3 234.2 L687.2 234.8 L688.8 234.5 L688.8 232.7 L689.6 231.4 L689 229.8 L688.9 228.3 L690.2 227.2 L690.3 225.2 L691.2 226.8 L692 227.9 L691.9 229.4 L692.5 230.6 L692.4 232.2 L693.3 232.7 L694.2 231.7 L693.9 230.1 L693.4 228.6 L693.8 227.2 L693 225.7 L693.6 224.3 L694.9 222.9 L693.8 221.4 L695 220 L694.9 218.5 L694.2 217 L694.7 215.7 L696.2 215.4 L696.8 213.6 L698.7 213.7 L698.9 212.3 L700.3 211.4 L699.6 209.7 L699.8 208.3 L700.7 207.2 L701.2 206 L701.8 204.8 L701.5 203.3 L703 202.4 L703.7 201.3 L703.3 199.5 L705.1 198.9 L705.6 197.6 L705.6 196.1 L707.2 195.7 L707.9 195 L708.9 193.2 L709.4 194.8 L708.7 196.5 L710.3 197.6 L709.9 199.1 L710.9 200.3 L710.2 201.9 L710.9 203.2 L710 204.8 L711.2 206 L711.3 208 L712.3 206.5 L712.6 205 L712.8 203.6 L714.6 203 L714.3 201.3 L715.1 199.5 L715 201.8 L715.7 203 L715.5 204.5 L717.1 205.5 L716.4 207.2 L718.1 208.2 L717.8 209.8 L717.2 211.3 L717.8 212.7 L717.9 214.1 L719.1 215.3 L718.2 216.9 L718.3 218.3 L720.3 219.5 L719.4 221 L719.1 222.5 L720.2 223.8 L720.5 225.2 L721.3 226.5 L721.1 228 L720.2 229.6 L721.8 230.8 L720.9 232.4 L722.1 233.7 L721.3 235.3 L721.4 236.7 L722.1 238.1 L722 239.6 L722.7 240.9 L722.7 242.4 L722.2 243.9 L722.9 245.3 L723.4 246.7 L722.9 248.2 L723.4 249.5 L723.1 251 L723.2 252.5 L723.7 253.9 L723.4 255.3 L723.9 256.7 L724.3 258.1 L724.5 259.6 L724.6 261 L724.4 262.4 L724.7 263.8 L724.5 265.3 L724.7 266.7 L725 268.1 L724.8 269.5 L724.9 270.9 L725.4 272.3 L725.3 273.7 L725.5 275.1 L725.5 276.6 L725.6 278 L726.2 279.4 L725.9 280.8 L726.3 282.2 L726.2 283.6 L726.8 284.9 L726.7 286.3 L726.5 287.7 L727.2 289 L727.2 290.4 L726.9 291.8 L727.7 293.1 L727.4 294.5 L727.8 295.8 L727.8 297.2 L727.7 298.6 L728.2 300 L728 301.4 L728.6 302.7 L728.3 304.1 L728.9 305.5 L728.7 306.9 L728.8 308.3 L729.3 309.6 L729.2 311 L729.3 312.5 L729.6 313.8 L730 315.2 L730.1 316.6 L729.9 318 L729.7 319.4 L729.8 320.8 L730.3 322.2 L730 323.7 L730.2 325.1 L730.2 326.5 L730.3 327.9 L730.2 329.3 L730.6 330.7 L730.3 332.2 L730.7 333.6 L730.7 335 L730.9 336.4 L731 337.7 L730.6 339.2 L730.7 340.5 L731.3 341.9 L730.9 343.3 L730.9 344.7 L731.5 346 L731.1 347.4 L731.4 348.8 L731.4 350.2 L731.3 351.6 L732 352.9 L731.5 354.3 L732.2 355.7 L731.6 357.1 L731.7 358.5 L732.4 359.8 L731.9 361.2 L732.2 362.6 L732.4 364 L732.5 365.4 L732.5 366.7 L732.8 368.1 L732.4 369.5 L732.9 370.9 L732.7 372.3 L732.6 373.7 L732.6 375.2 L733 376.6 L733.1 378 L732.9 379.4 L733.5 380.8 L733.5 382.2 L733.1 383.6 L733.6 385 L733.3 386.4 L733.4 387.8 L734 389.2 L734.1 390.6 L733.9 392.1 L733.9 393.5 L733.7 394.9 L734.2 396.3 L734.4 397.7 L734 399.1 L733.9 400.6 L734.3 401.9 L734.2 403.4 L734.1 404.8 L734.8 406.2 L734.5 407.6 L734.8 409 L734.8 410.4 L735 411.7 L735 413.1 L734.6 414.5 L735.1 415.8 L735.3 417.2 L735.4 418.6 L735.2 420 L735.5 421.3 L735.2 422.7 L735.2 424.1 L735.5 425.5 L735.5 426.8 L735.5 428.2 L736 429.6 L735.8 430.9 L736.1 432.3 L736 433.7 L736.3 435 L735.9 436.4 L736 437.8 L736.7 439.1 L736.5 440.5 L736.9 441.9 L736.8 443.3 L736.7 444.7 L737.1 446 L736.8 447.4 L737.4 448.8 L737.3 450.1 L737.1 451.5 L737 452.9 L737.2 454.3 L737.5 455.6 L737.3 457 L737.7 458.4 L737.6 459.8 L738 461.1 L737.5 462.5 L737.9 463.9 L737.9 465.3 L738.4 466.6 L738.1 468 L738 469.4 L738.5 470.8 L738.2 472.2 L738.3 473.5 L738.9 474.9 L738.9 476.3 L739.1 477.6 L739.1 479 L738.7 480.4 L739.1 481.7 L739.1 483.1 L739.6 484.5 L739.2 485.9 L739.6 487.2 L739.4 488.6 L739.7 489.9 L739.6 491.3 L739.5 492.7 L740.2 494 L739.9 495.4 L739.7 496.8 L740.2 498.2 L740.3 499.5 L740.1 500.9 L740.6 502.2 L740.3 503.6 L740.9 505 L741.1 506.4 L741.1 507.8 L740.9 509.2 L741.6 510.6 L741.6 512 L741.3 513.5 L742 514.8 L741.7 516.3 L742.3 517.7 L742.1 519.1 L742.4 520.5 L742.9 521.9 L742.9 523.3 L742.5 524.7 L743.1 526.1 L742.7 527.5 L743.5 528.8 L743.2 530.2 L743.2 531.6 L743.4 533 L743.4 534.4 L743.5 535.8 L744 537.2 L743.9 538.6 L744.2 540 L744 541.4 L744.4 542.7 L744.2 544.2 L744.9 545.5 L744.5 546.9 L744.6 548.3 L745.3 549.7 L745.4 551 L745.6 552.4 L745.3 553.9 L745.7 555.2 L745.9 556.6 L746 558 L745.9 559.4 L746.4 560.7 L746.8 562.1 L746.3 563.6 L746.9 564.9 L747.3 566.2 L746.9 567.7 L747 569.1 L747.4 570.4 L747.7 571.8 L747.8 573.2 L748.1 574.6 L747.8 576 L748.4 577.3 L748.1 578.7 L749 580 L748.5 581.4 L749.1 582.8 L749.3 584.1 L748.9 585.6 L749.8 586.9 L750.1 588.2 L749.8 589.6 L750.1 591 L750.5 592.5 L750 594 L750 595.6 L751.2 596.9 L750.3 598.6 L751 600 L750.5 601.6 L751 603 L752.1 604.4 L751.8 605.9 L750.8 607.9 L753.4 608 L753.5 609.7 L754.1 611.2 L756.4 611.1 L756.7 612.7 L756.9 614.2 L758.2 615.3 L758.1 616.9 L758.9 618.1 L759.2 619.4 L760.1 620.2 L761 621.3 L763.5 620.7 L761.5 621.5 L760.8 622.9 L759.1 623.1 L758.6 625 L756.4 624.7 L755.5 626 L756.7 626.9 L758.4 626.9 L759.3 628 L760 629.5 L761.9 629.1 L762.7 630.6 L763.7 630.4 L764.2 629.3 L765.8 628.7 L766.8 627.6 L767.7 626.3 L766.9 624.4 L767.6 623.2 L767.8 621.5 L769.2 621.5 L770.7 620.8 L771.8 622.2 L773.4 622.8 L772.8 624.7 L772.3 626.4 L773.6 627.5 L773.2 629.1 L775.4 630 L774.2 631.8 L775.2 633.1 L774.3 634.5 L774 635.9 L775.2 637.7 L773.6 639 L774.6 640.6 L773.3 642.2 L773.3 640.4 L775.3 639.9 L774.7 638.3 L776.4 637.8 L775.5 636.7 L776.8 637.5 L774.8 638.8 L776.3 640.5 L774.5 641.7 L775.9 643.3 L775.2 644.7 L774.5 646.1 L774.9 647.6 L774.3 649 L774.2 650.5 L775.4 649.5 L774.2 647.7 L775.8 646.7 L776.2 645.4 L775.5 643.9 L776.6 642.7 L776 641.2 L777.6 640.1 L777.4 638.6 L776.6 637 L776.7 635.6 L776.7 634.1 L776.8 632.7 L777.5 631.3 L778.6 630 L778 628.4 L778.3 627.6 L778.5 628.4 L778 629.9 L778.4 631.4 L779.1 632.8 L778.5 634.3 L779.4 635.6 L780.3 637 L778.5 638.6 L780.2 640 L778.6 641.3 L779.4 642.7 L780 644.1 L778.1 645.2 L779.4 646.6 L778.6 649 L778.4 646.1 L779.4 645 L781.1 644.1 L781.2 641.5 L780.7 643.8 L780.4 645.1 L780 646.4 L781.9 647.9 L781.1 649.2 L780.9 650.6 L780.4 651.9 L781.4 653.2 L780.2 654.2 L780.8 653.2 L780.1 651.5 L780.6 650.1 L780.9 648.6 L782.5 647.6 L782.5 647 L783.1 647.3 L783.2 648.8 L782.7 650.3 L782.4 651.8 L783.6 653.1 L782.4 654.8 L783.4 656.7 L784.6 655 L783.1 653.1 L783.7 651.8 L784.9 650.6 L783.8 649 L786.1 648.2 L785.5 645.7 L786 647.8 L785.5 649.4 L786.5 650.8 L785.5 652.3 L787 653.6 L785.5 655.2 L785.5 656.7 L786.6 657.1 L785.8 656.5 L786.3 655.2 L787.8 653.8 L787.1 652.4 L787.4 651 L787.8 649.6 L786.5 648.1 L787.3 646.7 L786.1 645.2 L788 643.9 L786.4 642.4 L787.6 641 L786.4 639.5 L787.9 638.2 L787 636.7 L788.3 635.4 L787.4 633.9 L787.8 632.5 L788.3 631.1 L787 629.7 L788.2 628.3 L789.1 626.9 L789.2 625.5 L787.6 624 L788.7 622.6 L787.9 621.2 L788.5 620.1 L788.6 621.2 L788.8 622.6 L789.1 623.9 L788.1 625.4 L788.4 626.8 L788.9 628.1 L790.3 629.4 L789.3 630.9 L790.2 632.2 L788.7 633.7 L790.1 635 L789.5 636.5 L790.4 637.8 L789.2 639.3 L791.3 640.5 L790.3 642 L789.9 643.4 L791.9 644.6 L791.4 646 L790.6 647.5 L792.2 648.8 L790.4 650.4 L791.8 651.6 L790.8 653.2 L792 654.5 L791.7 656.1 L793.3 657.2 L794 658.6 L793.4 660.2 L793 661.8 L795 662.8 L794.5 664.4 L794.6 666.4 L795.6 664.7 L794.9 663.1 L794.2 661.6 L796.1 660.4 L796.1 658.9 L794.7 657.3 L795.9 656.1 L796.1 654.6 L796.4 653.3 L795.8 651.8 L796 650.4 L797.3 649.1 L796.3 647.5 L797.7 646.3 L796.7 644.7 L796.9 643.3 L798.4 642.1 L797.5 640.5 L796.8 639 L798.9 637.8 L799.2 636.5 L797.9 634.9 L798 633.4 L798.7 631.1 L798.5 633.6 L799.9 634.8 L798.8 636.3 L799.3 637.7 L799.1 639.1 L798.6 640.6 L800.2 641.8 L799.1 643.3 L801.1 644.6 L799 646.2 L800.7 647.4 L801.1 648.8 L800.2 650.3 L799.9 651.7 L801.8 653 L800.2 654.5 L801.2 655.8 L801.6 657.2 L800.9 658.7 L801.6 660 L800.5 661.5 L800.7 662.9 L802.5 664.2 L801.4 665.7 L803 666.9 L801.3 668.5 L803.2 669.7 L801.8 671.3 L803.1 672.6 L802.1 674.1 L803.6 675.4 L802.1 677.1 L803.2 679.2 L802.6 676.5 L804.4 675.6 L804 674.2 L803.2 672.6 L805.2 671.6 L805.1 670.2 L804.8 668.7 L805.9 667.5 L806.4 666.2 L804.7 664.5 L805.3 663.2 L805.4 661.9 L807.3 660.8 L806 659.2 L805.9 657.8 L808 656.8 L806.4 655.1 L808.3 654.1 L808 653.4 L807.1 654.2 L808.4 655.3 L807.8 656.7 L808.3 658.1 L809.8 659.3 L809.8 660.7 L808.1 662.2 L809.1 663.5 L808.5 664.9 L809.4 666.2 L810.3 667.5 L809.1 669 L808.3 670.5 L810.4 671.7 L810.8 673 L808.7 674.6 L809.1 676.2 L810.2 676.6 L811.4 676.9 L811.7 674.8 L813.6 675.2 L814.3 672.6 L814 674.6 L815.1 675.8 L814.3 677.3 L815 678.7 L814.6 680.1 L815.9 681.4 L815 682.9 L814.3 684.4 L815.6 685.7 L814.7 687.2 L816.5 688.5 L814.6 690.1 L816.6 691.3 L815.2 692.9 L816.4 694.1 L815.6 695.8 L816.1 697.1 L817.8 698 L818.8 699 L818.1 700.9 L818.5 702.2 L819.7 703.3 L821.1 704.4 L821.3 705.9 L819.8 707.9 L822.2 708.6 L820.6 710.7 L823 711.4 L822 713.2 L824.3 713.8 L824.9 715 L823.3 717.1 L825 717.9 L824.9 719.4 L826.1 720.4 L825.4 722 L825.9 723.3 L826.3 724.6 L827.4 725.8 L825.8 727.5 L828.5 728.4 L826.6 730.2 L828.6 731.2 L827.9 732.8 L829 734 L828 735.6 L827.5 737.1 L830.1 738 L830.1 739.4 L829.8 740.9 L830.6 742 L829.7 743.7 L831.8 744.4 L830.4 746.2 L831.9 747.1 L833.1 748.1 L831.4 749.9 L833.1 751 L833.6 752.3 L833.6 753.7 L833.7 755.1 L833.6 756.4 L832.8 757.9 L833.7 759.2 L832.3 760.7 L834.5 761.8 L834.2 763.2 L832.9 764.8 L833.8 765.1 L834.5 764.7 L835 763.3 L834 761.8 L834.9 760.4 L833.3 758.9 L835.4 757.7 L834.4 756.2 L836.2 754.9 L833.8 753.3 L835 753.3 L836.3 753.3 L835.9 754.8 L834.8 756.2 L834.4 757.6 L835.8 759 L836.1 760.4 L836.2 761.8 L835 763.2 L834.6 764.6 L836.6 766 L836.6 767.4 L835.9 768.8 L834.8 770.2 L834.3 771.6 L835.8 773 L834.2 774.4 L836.2 775.8 L836.5 777.2 L834.8 778.6 L835.5 780.2 L836.6 778.7 L834.4 777.1 L837.1 775.8 L836.4 774.4 L834.6 772.9 L836 771.5 L835.5 770.1 L836.8 768.7 L835 767.2 L837.2 765.9 L835.9 764.5 L837.1 763.1 L835.4 761.6 L835.6 760.2 L837.7 758.9 L836.2 757.4 L836.8 756.7 L837.8 757.4 L835.6 758.8 L837.3 760.2 L835.3 761.6 L835.5 763 L837.3 764.4 L835.8 765.7 L837.6 767.2 L837.2 768.5 L835.5 769.9 L837.7 771.3 L837.7 772.7 L836.6 774.1 L835.2 775.5 L834.9 776.9 L835.3 778.3 L836.8 779.7 L835.4 781.1 L836.7 782.5 L836.1 783.9 L835.3 785.2 L837.2 786.7 L835.6 788 L837.2 789.4 L834.9 790.8 L837.2 792.2 L834.7 793.6 L835.5 794.4 L835.3 793.5 L836.8 792.2 L836.2 790.7 L836 789.3 L837.6 787.9 L836.4 786.5 L836.1 785 L836.5 783.6 L837.9 782.2 L835.9 780.7 L836.9 779.4 L837 777.9 L835.8 776.5 L837.2 775.1 L835.9 773.6 L836.8 772.2 L838.1 770.9 L836.2 769.4 L836.2 767.9 L836.1 766.5 L837.8 765.1 L837.6 763.7 L838.6 762.3 L836.3 760.8 L836.4 759.4 L837.9 758.4 L837.5 759.4 L836.4 760.8 L837.2 762.2 L836.7 763.6 L836.4 764.9 L838.4 766.4 L836.1 767.7 L838.5 769.1 L836.7 770.5 L837.4 771.9 L837.4 773.3 L837.1 774.7 L836.4 776.1 L837.4 777.5 L836 778.9 L838.5 780.3 L835.8 781.6 L838 783.1 L836.3 784.4 L836.7 785.8 L837.9 787.2 L835.9 788.6 L837.1 790.9 L838.3 788.7 L836 787.1 L837.6 785.8 L836.6 784.4 L838.7 783.1 L837 781.6 L838.9 780.3 L836.6 778.7 L837.1 777.4 L838.4 776 L838.1 774.6 L837.4 773.2 L838.7 771.8 L837.5 770.4 L838.8 769 L838.6 767.6 L839.4 766.3 L837.7 764.8 L837.7 763.3 L837.7 762.9 L839 763.4 L837 764.8 L838.8 766.3 L839.1 767.8 L838 769.2 L839.5 770.6 L839 772.1 L837.4 773.5 L838 774.9 L839.4 776.4 L837.6 777.8 L839.2 779.3 L837.1 780.7 L838 782.1 L837.4 783.6 L838.8 784.2 L838.1 783.6 L837.4 782.2 L839.3 781 L837.7 779.5 L839.6 778.3 L837.8 776.8 L839.9 775.6 L838.5 774.1 L839.5 772.8 L839.8 771.5 L838.8 770 L840.3 768.8 L839.4 767.4 L838.7 766.6 L838.4 767.4 L839 768.8 L839.6 770.3 L838.2 771.7 L840.3 773.2 L839.1 774.6 L840 776 L839 777.4 L837.9 778.8 L838 780.3 L839.5 781.7 L837.9 783.1 L840.2 784.6 L838.5 786 L839.8 787.5 L837.7 788.8 L839 790.3 L839 791.7 L839.6 793.2 L837.7 794.4 L839 796.2 L838.3 797.5 L836.1 798 L835.9 799.5 L835.7 800.1 L835.5 799.5 L837.1 798.6 L836.3 796.7 L838.5 796 L837.4 794 L839.9 793.5 L838.6 791.4 L838.8 789.9 L840.1 788.7 L841.1 789 L840.9 789.3 L841.6 790.6 L840.4 792 L842.2 793.3 L840.4 794.8 L842.6 796.1 L840.5 797.6 L840.8 799 L842.2 800.3 L843.3 801.6 L841.1 803.1 L842.8 804.4 L841.4 805.9 L843.3 807.2 L843.2 808.6 L842.1 810.1 L841.9 811.5 L843.2 812.8 L841.6 814.3 L842.7 815.6 L842.5 817.9 L842.1 815.4 L843.4 814.4 L843.3 813 L842.4 811.4 L844.2 810.4 L845.6 809.3 L844.7 807.7 L844.2 806.3 L845.8 805.2 L846.4 803.9 L844.3 802 L845.5 802.1 L846.4 802.2 L845.6 803.8 L845.1 805.3 L847.3 806.4 L846.5 807.9 L845.4 809.4 L847.3 810.6 L845.4 812.2 L848.4 813.3 L846.7 814.9 L846.2 816.3 L847.9 817.6 L846.8 819.1 L846.7 820.5 L849.1 821.6 L846.6 823.3 L847.4 824.6 L849 825.6 L849.1 826.8 L849.4 828.7 L851.8 827.7 L852.1 829.5 L854.3 829.7 L852.2 831.9 L854 833.1 L852.6 834.8 L855.4 835.9 L853.6 837.7 L855.2 838.9 L854.6 840.6 L855.7 841.3 L856.4 841.8 L857.1 843.1 L858.1 842.6 L859.6 843 L858.5 844.7 L860.3 845.9 L859.2 847.3 L860.1 848.6 L858.8 850.1 L860 851.4 L859.1 852.8 L859.9 854.1 L858.8 855.5 L860 856.8 L861.2 858.1 L859.6 859.7 L859.9 861.8 L861.3 860.2 L861.6 858.3 L862.9 857.8 L864.6 858.4 L866.8 856.2 L865.1 859.3 L866.2 860.1 L866.3 861.4 L865.5 862.9 L867.3 864.1 L865.8 865.6 L868.2 866.5 L868.4 867.5 L868.9 869.2 L871.6 868.9 L871 871.2 L871.8 872.1 L871 874 L873.3 874.2 L873.2 875.7 L875 877.7 L875.9 873.7 L876.8 874.3 L877.7 878.3 L878.6 880.4 L879.5 884.6 L880.4 886.1 L881.3 885.4 L882.2 884.3 L883.1 881.5 L884 882.1 L884.9 877 L885.8 880.9 L886.7 884 L887.6 889.5 L888.5 895.2 L889.4 895.5 L890.3 895.6 L891.2 885.5 L892.1 887 L893 888.5 L893.9 890.3 L894.8 896.4 L895.7 895.4 L896.6 897.3 L897.5 896.8 L898.4 894.3 L899.3 891.8 L900.2 885.6 L901.1 887.4 L902 897.6 L902.9 898.2 L903.8 897.8 L904.7 896.5 L905.6 886.8 L906.5 888.9 L907.4 898.9 L908.3 916.3 L909.2 936.3 L910.1 916.3 L911 892.5 L911.9 870.5 L912.8 888 L913.7 906.8 L914.6 911.5 L915.5 909.2 L916.4 915.2 L917.3 916.3 L918.2 900.2 L919.1 895.9 L920 894.2 L920.9 891.8 L921.8 912.4 L922.7 924.9 L923.6 940 L924.5 923.9 L925.4 897.1 L926.3 884.5 L927.2 886.5 L928.1 894.7 L929 900.7 L929.9 910 L930.8 902.1 L931.7 912.2 L932.6 913 L933.5 906.9 L934.4 904.7 L935.3 897 L936.2 900.7 L937.1 893.8 L938 895.3 L938.9 895.3 L939.8 893.4 L940.7 895.9 L941.6 899 L942.5 902.9 L943.4 904.4 L944.3 905.2 L945.2 910 L946.1 905.5 L947 905.6 L947.9 904.1 L948.8 907.3 L949.7 906 L950.6 909.1 L951.5 903.3 L952.4 896.3 L953.3 899.3 L954.2 898.3 L955.1 893.4 L956 895.6 L956.9 886.5 L957.8 886.5 L958.7 886.5 L959.6 887.2 L960.5 891.6 L961.4 902.2 L962.3 900.6 L963.2 901.1 L964.1 906.5 L965 902.4 L965.9 904.4 L966.8 892.2 L967.7 887.5 L968.6 882.5 L969.5 887.5 L970.4 891.9 L971.3 895 L972.2 901.9 L973.1 913.5 L974 926 L974.9 917.4 L975.8 905.4 L976.7 908.7 L977.6 902.2 L978.5 898 L979.4 907.7 L980.3 902.1 L981.2 901.6 L982.1 906.2 L983 903.7 L983.9 897.9 L984.8 899.4 L985.7 898.6 L986.6 895 L987.5 900.2 L988.4 911.6 L989.3 901.3 L990.2 902.3 L991.1 898.3 L992 890.5 L992.9 893 L993.8 898.1 L994.7 903.3 L995.6 912.1 L996.5 907.7 L997.4 910.2 L998.3 907.1 L999.2 905.6 L1000.1 899.6 L1001 893.8 L1001.9 894.5 L1002.8 894.2 L1003.7 907.3 L1004.6 907 L1005.5 908.7 L1006.4 911.1 L1007.3 908.2 L1008.2 911.3 L1009.1 897.4 L1010 900.6 L1010.9 903.1 L1011.8 898.7 L1012.7 914 L1013.6 905.8 L1014.5 887.1 L1015.4 873.6 L1016.3 891.5 L1017.2 909.6 L1018.1 912.5 L1019 927 L1019.9 941 L1020.8 927.4 L1021.7 915.8 L1022.6 886.7 L1023.5 883.5 L1024.4 869.3 L1025.3 893.3 L1026.2 925.1 L1027.1 943 L1028 929.3 L1028.9 914 L1029.8 920.7 L1030.7 908 L1031.6 912.6 L1032.5 923.1 L1033.4 913.9 L1034.3 919.9 L1035.2 914 L1036.1 917.5 L1037 910.4 L1037.9 906.5 L1038.8 908.4 L1039.7 896.7 L1040.6 904 L1041.5 906.3 L1042.4 900.8 L1043.3 898.2 L1044.2 906.5 L1045.1 902.7 L1046 905.7 L1046.9 907.4 L1047.8 908.5 L1048.7 899.6 L1049.6 897.3 L1050.5 895.9 L1051.4 902.2 L1052.3 903.2 L1053.2 908.2 L1054.1 910.4 L1055 912.9 L1055.9 915.5 L1056.8 915.7 L1057.7 916 L1058.6 923.4 L1059.5 922.9 L1060.4 921.2 L1061.3 913.8 L1062.2 907.8 L1063.1 905.2 L1064 905.9 L1064.9 911.5 L1065.8 914.3 L1066.7 909.2 L1067.6 917.6 L1068.5 918.5 L1069.4 919 L1070.3 923.2 L1071.2 915.7 L1072.1 915.2 L1073 911.3 L1073.9 913.3 L1074.8 912.5 L1075.7 915.9 L1076.6 917.8 L1077.5 913.8 L1078.4 917.3 L1079.3 915.2 L1080.2 914.7 L1081.1 918.9 L1082 914.4 L1082.9 913.8 L1083.8 914.1 L1084.7 912.8 L1085.6 918.7 L1086.5 916.3 L1087.4 916.8 L1088.3 911.6 L1089.2 900.8 L1090.1 901.6 L1091 889.4 L1091.9 897.3 L1092.8 900.5 L1093.7 905.2 L1094.6 913.3 L1095.5 900.8 L1096.4 915.7 L1097.3 927.6 L1098.2 936.6 L1099.1 930.5 L1100 920.1 L1100.9 904.9 L1101.8 894.7 L1102.7 886.9 L1103.6 883.8 L1104.5 914.3 L1105.4 938 L1106.3 915.1 L1107.2 896 L1108.1 876.2 L1109 884.9 L1109.9 892 L1110.8 890.8 L1111.7 895 L1112.6 892.2 L1113.5 885.9 L1114.4 901.6 L1115.3 898.7 L1116.2 901.7 L1117.1 895.7 L1118 897.8 L1118.9 898.1 L1119.8 877.3 L1120.7 876.3 L1121.6 867 L1122.5 877.9 L1123.4 884.4 L1124.3 886.7 L1125.2 887.3 L1126.1 886.3 L1127 887.7 L1127.9 887.1 L1128.8 887.5 L1129.7 890.4 L1130.6 891.1 L1131.5 891.8 L1132.4 889.7 L1133.3 891.9 L1134.2 893 L1135.1 900.3 L1136 905 L1136.9 907.5 L1137.8 908.6 L1138.7 907.8 L1139.6 908.1 L1140.5 909.8 L1141.4 911.2" stroke-linecap="butt" stroke-linejoin="miter" stroke-miterlimit="3"/>
<path d="M387.6 968 L388 966.6 L387.7 965.1 L388.1 963.6 L387.2 962.2 L387.8 960.8 L387.8 959.3 L387.1 957.9 L387.1 956.5 L387.5 955 L387 953.6 L387 952.3 L387.4 950.9 L387.3 949.5 L387.2 948.2 L386.5 946.8 L386.7 945.5 L386.2 944.1 L386.8 942.7 L386.2 941.4 L386.8 940 L386.3 938.6 L386.6 937.2 L386.1 935.9 L386.4 934.5 L386.4 933.1 L385.9 931.7 L386.4 930.3 L385.9 929 L385.8 927.6 L386.2 926.2 L386.1 924.8 L385.7 923.5 L385.7 922.1 L386.5 920.7 L386 919.3 L386.4 917.9 L386.5 916.5 L387 915.1 L386.5 913.6 L387.3 912.3 L387 910.8 L387.5 909.4 L387.2 908 L387.3 906.6 L388.3 905.5 L388 904 L388.7 902.8 L388.4 901.4 L389.1 900.2 L389.6 898.9 L390.7 897.8 L391.8 896.8 L392.6 895.7 L393.5 894.5 L394.9 894 L395.6 892.6 L397 892.1 L397 890.5 L398.5 889.8 L398.9 888.6 L399.4 886.4 L399 888.7 L400.3 889.6 L400.2 891 L399.5 892.5 L400.1 893.7 L401.3 894.8 L400.9 896.2 L401.7 897.2 L401.5 899.7 M404.4 894.9 L405.8 895 L406.9 894.8 L407.6 893.6 L409.6 893.8 L409.8 891.4 L412.1 892.1 L412.5 889.8 L414.5 892.1 L415.1 890.2 L416.9 890.4 L416.4 888.2 L417.1 887.1 L418.7 886.6 L418.3 884.7 L420 884.4 L421.3 883.6 L421.2 881.4 L423.1 881.2 L423.7 879.7 L425.3 879.1 L424.6 876.7 L425.5 875.4 L427.8 875.3 L429.3 874.9 L430.8 874.7 L430.6 871.6 L432.9 872.6 L433.1 870.4 L436.1 871.6 L434.2 867.2 L436.8 868.4 M441.7 865.7 L442.5 868.6 L443.8 868.4 L444.9 867.2 L445.9 866 L448 868 L449.1 864.9 L449.7 867.8 L452.8 866.2 L453.2 867.9 L454.2 868.7 L454.4 871.7 L456.3 870.7 L456.7 872.9 L458.2 872.7 L458.2 874.4 L460.5 874.1 L461 875.8 L463.1 874 L463.9 875.5 L464.7 873.6 L466.3 875.1 L467 872.6 L468.5 872.6 L469.8 874.3 L471.4 873.3 L472.5 876 L474.3 876.6 L474.6 873.9 L475.4 872.7 L476.2 871.3 M480.1 869.2 L482.3 870 L482.2 867.7 L483.2 866.3 L486.8 868.9 L486.2 865.6 L486 863.9 L486.6 863.1 L490 863.4 L487.9 860.5 L491.5 861.3 L489.8 858 L494 859.9 L492.4 856.6 L494.7 856.5 L496.1 855.6 L497.2 854.3 L495.3 852 L496 850.7 L496.6 849.3 L498.7 848.7 L498.4 846.8 L498 845.2 L500.9 844.6 L499 842.5 L499.7 841.2 L501.6 840.3 L500.2 838.3 L502.1 837.5 L503.4 836.7 L502.6 834.3 L504.1 833.6 L506 833.2 L505.7 831.3 M512.1 816.3 L512.4 814.8 L511.6 813.2 L513.1 812 L511.5 810.2 L513.1 809.1 L511.8 807.3 L514 806.3 L512.9 804.6 L514.8 803.6 L513.8 801.9 L514.6 800.6 L513.6 798.9 L515.5 797.8 L514.8 796.2 L516.5 795.1 L515.6 793.5 L516.6 792.2 L515.6 790.6 L517.4 789.5 L516.1 787.8 L517.5 786.6 L518 785.3 L517.1 783.7 L518.2 782.5 L518.9 781.2 L517.8 779.5 L518.3 778.2 L519.5 776.9 L518.9 775.4 L519.9 774.1 L520.4 772.8 L519.5 771.2 M524.2 752.8 L523.8 751.4 L524 750.1 L524.7 748.8 L525 747.4 L524.5 746 L525.2 744.7 L524.8 743.3 L525.4 742 L525.4 740.6 L525.9 739.3 L526.4 738 L525.8 736.5 L526.9 735.3 L526 733.8 L526.9 732.6 L526.7 731.2 L527.3 729.9 L526.8 728.4 L527.7 727.2 L527.3 725.7 L528 724.5 L528 723.1 L528.7 721.8 L528.2 720.3 L528.3 719 L529.3 717.7 L528.8 716.3 L529.3 715 L529.5 713.6 L529.2 712.2 L530.1 710.9 L529.6 709.5 L529.6 708.1 L529.9 706.8 L529.9 705.4 L531 704.2 M533.3 685.7 L534 684.4 L534.3 683 L533.7 681.6 L533.8 680.2 L534 678.8 L534.8 677.5 L534 676 L535 674.8 L534.6 673.3 L535.2 672 L535.3 670.6 L535.5 669.3 L534.8 667.8 L535.3 666.5 L535.9 665.1 L535.3 663.7 L536 662.4 L535.8 661 L536.2 659.6 L536 658.1 L537 656.8 L536.1 655.3 L536.6 653.9 L537.2 652.6 L537.2 651.1 L537.7 649.8 L536.9 648.3 L537.6 646.9 L537.1 645.4 L538.1 644.1 L537.4 642.6 L538.1 641.2 L538 639.8 L538.8 638.5 L538 636.9 M541.5 618.5 L540.8 617.1 L541.8 615.8 L541.1 614.4 L542.1 613.1 L541.5 611.7 L542.3 610.4 L542.2 609 L541.7 607.6 L542.8 606.3 L541.9 604.8 L543 603.6 L542.2 602.1 L542.7 600.8 L543 599.4 L542.9 598.1 L543.4 596.7 L542.8 595.3 L543.9 594 L543.9 592.6 L544.2 591.2 L544.3 589.8 L543.9 588.3 L543.9 586.9 L543.9 585.4 L543.9 584 L544.9 582.6 L544.3 581.1 L545.3 579.8 L545.4 578.4 L544.8 576.9 L545.7 575.5 L545.2 574.1 L545.9 572.7 L546.2 571.3 L545.7 569.8 M548.5 551.3 L549 550 L549.4 548.7 L549 547.2 L549.9 546 L549.6 544.5 L550 543.2 L550 541.8 L549.9 540.4 L550.1 539.1 L551 537.8 L550.7 536.3 L550.6 535 L551.3 533.6 L550.6 532.2 L550.9 530.8 L551.6 529.5 L551.1 528.1 L551.5 526.8 L551.9 525.5 L551.6 524.1 L551.8 522.7 L552.5 521.4 L551.9 520 L552.8 518.7 L552.6 517.3 L552.3 515.9 L553.4 514.7 L553.1 513.3 L552.8 511.9 L553.5 510.6 L553.2 509.2 L554.2 507.9 M555.2 490.9 L555.2 489.5 L555.1 488 L556.4 486.9 L556.2 485.4 L556.2 484 L556.9 482.7 L556.5 481.2 L557.3 479.9 L557.8 478.6 L558 477.2 L558.3 475.8 L557.9 474.3 L558.7 473 L559.2 471.7 L558.7 470.2 L559.5 468.9 L560.1 467.6 L559.9 466.1 L560.7 464.8 L560.1 463.3 L561.1 462 L561.2 460.6 L561.9 459.3 L561.6 457.8 L562.2 456.5 L562 455 M565.5 442.7 L566 441.5 L566.9 440.3 L566.5 438.7 L567.8 437.7 L567.5 436.1 L568.9 435.2 L568.7 433.6 L569.5 432.5 L569.9 431.1 L571.3 430.2 L571.8 428.8 L573 427.9 L573 426.2 L574.5 425.3 L574.8 424 L574.8 422.5 L574.8 421.1 L575.7 420 L575.6 418.6 L576.6 417.5 L576.3 415.8 M589.9 411 L590.2 409.1 L591.8 409.1 L592.9 408.6 L593.6 407.6 L594.4 408.7 L595.8 408.1 L596.4 408.2 L597.5 407.9 L596 406.3 L598 405.1 L596.3 403.6 L596.4 402.3 L597.6 401 L596.6 399.6 L598.2 398.3 L596.6 396.9 L598.1 395.6 L596.8 394.2 L598 392.9 L596.8 391.3 L598.8 390.4 L598.7 389 L597.9 387.3 L598.6 386.1 L599.8 385.1 L600.5 383.9 L599.7 382.2 L601 381.1 L600.8 379.5 L600.8 378 L602.3 376.9 L601.8 375.2 L603.5 374.1 L603 372.5 L604.3 371.3 L603.5 369.6 L604.8 368.4 L603.8 366.6 L606 365.6 L606 364.1 L606.3 362.6 M606.7 349.3 L607.4 348 L608.1 346.6 L608 345.2 L608.6 343.8 L608.5 342.4 L609.3 341 L608.6 339.5 L608.5 338 L608.6 336.6 L608.7 335.2 L609.5 333.9 L611 332.7 L609.7 331 L611.7 329.9 L609.9 328.1 L611.5 326.9 L610.5 325.3 L611.8 324.1 L612.1 322.7 L611.4 321.1 L613.2 320 L612.1 318.4 L613.3 317.1 L612.8 315.6 L614 314.4 L612.9 312.7 L614.4 311.5 L613.7 310 L614.5 308.7 L613.9 307.1 M618.1 294.1 L616.4 292.6 L618.2 291.3 L617.1 289.9 L616.6 288.5 L616.5 287.1 L617.2 285.8 L618.2 284.5 L617.1 283.1 L618.7 281.8 L618.9 280.5 L617.5 278.9 L617.9 277.6 L619.1 276.4 L618.4 274.8 L619.3 273.6 L620.3 272.4 L619.4 270.8 L619.3 269.3 L621.3 268.4 L620 266.6 L621.4 265.6 L621.7 264.2 L621.2 262.7 L621.2 261.3 L621.8 260 L623.2 259 L623.9 257.7 L622.3 255.9 L624.2 255 L624.7 253.8 L624 252.2 L625.4 251.4 L626.4 250.4 M630.3 235.8 L630.8 234.6 L632.7 233.7 L631.7 232 L633.4 231.1 L632.7 229.4 L633.7 228.3 L633.4 226.3 L635.7 226.6 L636.2 224.8 L637.7 224.4 L638.7 223.5 L639.6 222.5 L640.1 220.4 L640.2 222.5 L640.8 223.7 L640.1 225.3 L642.1 226.3 L641.6 227.9 L641.6 229.3 L641.4 231 L642.6 231.7 L643.1 230.9 L643.1 229.4 L644.5 228.6 L645 227.7 L644.9 226.8 L646.2 227 L646.1 228.9 L646 230.6 L648 231.1 L648 232.9 L648.8 231.8 L650.4 231.6 L650.5 229.8 L651.7 228.2 M658.5 232.3 L658.6 233.7 L660.3 234 L660.7 235.3 L660.6 236.8 L661.2 238.1 L662 239.1 L662.9 237.8 L663.6 236.3 L663.9 234.5 L664.9 233.3 M672.1 222.9 L672.1 221.3 L673.3 220.2 L673 218.6 L674.8 217.6 L673.7 215.7 L675.3 214.7 L676.1 213.4 L675.2 211.5 L676.6 210.4 L676.9 208.9 L677.8 207.6 L678.3 206.2 L677.6 204.4 L678.1 203 L679.9 202.1 L679.1 200.3 L680.7 199.3 L680.4 197.5 L681.8 196.3 L682.4 194.9 L682 193 L683.8 192.2 L682.7 190.3 L684.5 189.5 L684.8 188.1 M685.1 179.8 L686.5 178.8 L687.6 177.6 L689.6 177.3 L689.8 175.5 L690.4 174.1 L692.2 173.6 L692 171.7 L694 171.4 L693.8 169.5 L695 168.7 L695.6 167.4 L697.5 167.3 L698 165.9 L699.1 165.9 L700.3 164.2 L699.7 166.4 L699.8 167.7 L701.7 168.8 L701 170.5 L702.2 171.8 L701.3 173.5 L701.4 174.9 L702.7 176.1 L703.6 177.3 L702.6 179 L703.7 180.2 L704.4 181.5 L703.4 183.2 L704 184.5 M706.2 200.3 L706.9 201.6 L707 203 L707.6 204.3 L706.9 205.7 L708.1 207 L706.7 208.5 L708.4 209.8 L708.2 211.2 L708.3 212.6 L707.8 214 L708 215.4 L708.8 216.7 L708.2 218.1 L709 219.4 L709.3 220.8 L708 222.3 L709.7 223.5 L708.8 225 L708.7 226.5 L708.5 227.9 L709.4 229.3 L709.8 230.7 L709.7 232.2 L709.4 233.6 L709.3 235.1 L710.6 236.4 L709.7 237.9 L710.2 239.3 L711 240.7 L710.6 242.2 L709.7 243.7 L709.8 245.2 L711.3 246.5 L711.3 247.9 L710.3 249.4 M710.7 266.3 L712.1 267.7 L711 269.2 L712.5 270.5 L711.6 272 L711.5 273.5 L712.4 274.8 L711.9 276.3 L712 277.8 L712.8 279.1 L712.3 280.6 L711.8 282.1 L713.1 283.4 L712.3 284.9 L713.9 286.2 L714 287.6 L713.7 289.1 L712.9 290.6 L713.4 292 L713.8 293.4 L714.4 294.8 L713 296.3 L714.2 297.6 L714.5 299 L714.7 300.5 L713.7 302 L714.3 303.3 L715.2 304.7 L714.2 306.2 L715.5 307.5 L714.7 309 L715.3 310.4 L714.3 311.9 L715.9 313.2 L714.5 314.7 L715.7 316.1 L715.4 317.5 M716.4 334.6 L717.4 336 L715.8 337.5 L717.2 338.8 L716.3 340.3 L717.3 341.6 L716.1 343.1 L717.5 344.5 L717.8 345.9 L716.4 347.3 L717.4 348.7 L717.4 350.1 L716.5 351.6 L717.3 352.9 L717.6 354.3 L718.1 355.7 L717.3 357.2 L717.5 358.6 L716.7 360 L717 361.4 L718.2 362.8 L716.8 364.3 L718.5 365.6 L718.4 367 L717.2 368.5 L718.6 369.8 L717.4 371.3 L718.8 372.6 L717.6 374.1 L718.4 375.4 L717.7 376.9 L718.9 378.2 L717.8 379.7 L719.1 381.1 L718 382.5 L719.3 383.9 L718.8 385.3 M720.1 400.4 L719.3 401.8 L720.4 403.2 L720.4 404.6 L719.2 406 L720.3 407.4 L719.5 408.8 L720.4 410.1 L719.1 411.6 L720.6 412.9 L719.3 414.4 L721 415.7 L720.2 417.1 L719.5 418.6 L719.4 420 L720.2 421.3 L721 422.7 L720.7 424.1 L719.8 425.5 L719.9 426.9 L719.9 428.4 L720.9 429.8 L720.2 431.2 L721.4 432.6 L720.2 434.1 L721.5 435.4 L720.6 436.9 L721.3 438.3 L721.7 439.7 L720.8 441.2 L721.3 442.6 L721 444 L721.7 445.4 L721.2 446.8 L721.3 448.3 L720.9 449.7 L721.5 451.1 M722.9 467.6 L723 469.1 L723.5 470.5 L723.2 471.9 L723.4 473.3 L723.3 474.8 L723.9 476.2 L724 477.6 L723.6 479.1 L724 480.5 L723.7 482 L723.8 483.4 L724.3 484.8 L723.9 486.3 L724.3 487.7 L724.1 489.1 L724.3 490.6 L724.4 492 L724.4 493.4 L724.8 494.8 L724.9 496.1 L724.5 497.6 L725.1 498.9 L725.1 500.3 L725 501.7 L725.3 503.1 L724.8 504.5 L725.5 505.8 L725.3 507.2 L725.4 508.6 L725.2 510 L725.6 511.5 L726.2 513 L726.1 514.6 L726.7 516 L726.5 517.6 M727.4 535.1 L727.1 536.5 L727.9 537.8 L727.9 539.2 L727.7 540.7 L728.3 542 L727.9 543.4 L728.4 544.8 L728.4 546.2 L728.4 547.6 L728.8 548.9 L728.9 550.3 L729.3 551.7 L729.5 553.1 L729.3 554.5 L729.3 555.9 L729.9 557.2 L729.7 558.6 L730.3 560 L729.9 561.4 L730.6 562.7 L730.6 564.1 L730.8 565.5 L730.8 566.9 L731.2 568.3 L731 569.7 L731.4 571.1 L731.8 572.4 L732 573.8 L731.8 575.2 L732 576.6 L732.5 577.9 L732.3 579.4 L732.6 580.7 L732.7 582.1 L732.7 583.6 L732.8 585 M737.3 600 L738 601.1 L737.9 602.5 L738.5 603.6 L739.3 604.7 L739.3 606.1 L740.3 607 L740.5 608.3 L741.1 609.4 L741.6 610.6 L742.7 611.4 L743.4 612.6 L744 613.8 L744.7 615 L745.7 615.9 L746.7 616.8 L747.7 618 L748.2 619.5 L749.8 620.1 L750.1 621.9 M760.8 632.4 L761.4 633.5 L761.1 635.5 L763.2 635.5 L762.7 637.7 L764.3 637.9 L765.9 638.3 L765.4 640.5 L766.4 641.6 L768.1 641.9 L768.7 643.3 L770 644 L771.1 644.9 L772.1 645.9 L771.7 648.2 L773.7 648.3 L774.3 649.6 L775.3 650.5 L775.8 651.9 L777.3 652.3 L778.3 653.3 L778.9 654.6 L780.7 655 L780.5 657.1 L781.2 658.5 L782.3 659.5 L783.9 660 L784.5 661.4 M794.7 672.3 L795.4 673.6 L794.4 675.5 L794.6 676.9 L795.9 677.9 L795.6 679.5 L797.6 680.4 L797.7 681.8 L797.9 683.2 L798 684.7 L798 686.2 L799.7 687.1 L799.3 688.6 L799.4 690.1 L801.3 690.9 L801.7 692.2 L800.5 694.2 L802.7 694.7 L801.4 696.7 L803.2 697.6 L802.6 699.2 L804.4 700.3 L802.8 702 L803.6 703.3 L805.3 704.4 L803.8 706.2 L805 707.4 L804.3 709 L804.6 710.4 L806.4 711.4 L807 712.8 M807.9 727 L810.5 727.8 L809 729.6 L810.8 730.6 L809.9 732.2 L810.8 733.4 L809.7 735 L811.8 735.9 L810.6 737.6 L811.1 738.9 L813.3 739.8 L811.7 741.5 L813.5 742.5 L812.7 744.1 L814.3 745.1 L813.6 746.7 L814.5 747.9 L814.1 749.4 L815.8 750.4 L814.3 752.1 L815.9 753.2 L815.5 754.6 L815.5 756.1 L816.5 757.2 L815.6 758.9 L818.2 759.6 L816.2 761.5 L818.5 762.3 L817.2 764.1 L818.5 765.2 L819.1 766.4 L819.1 767.8 L818.8 769.3 M821.1 782 L823.3 782.8 L822.4 784.5 L822.4 785.9 L823 787.2 L824.9 788.1 L824.1 789.8 L824 791.2 L824.3 792.6 L824.3 794 L826.6 794.8 L827 796.1 L825.6 797.9 L827.5 798.8 L826.8 800.5 L827.6 801.7 L827.5 803.1 L827.8 804.5 L829.8 805.4 L828 807.4 L830 808.3 L828.7 810.2 L829.9 811.3 L829.5 812.9 L832.1 813.6 L830.9 815.4 L832.9 816.4 L831.5 818.2 L832.1 819.5 L833.6 820.6 L833.7 822 L833.8 823.5 M838 831.9 L837.4 833.6 L839.2 834.3 L839.5 835.8 L838.7 837.6 L840.9 838.2 L841.2 839.6 L840.1 841.6 L842.9 841.9 L841.3 844.1 L843.4 844.7 L843.9 846 L844.5 847.3 L843.7 849.2 L844 850.6 L847.1 850.6 L847.4 852 L847.2 853.7 L846.8 855.5 L848.9 856 L848 858 L849.8 858.6 L850.6 859.8 L850.1 861.7 L851 862.7 M855.9 868.4 L858.1 868.6 L857 870.9 L859.4 871.1 L860 872.3 L859 874.5 L860.8 875 L860.5 876.8 L862.3 877.3 L862.5 878.9 L862.5 880.6 L865.3 880.4 L865 882.4 L866.9 882.8 L866.5 884.8 L868.7 885"/>
<path d="M869 876.5 L869.9 876.5 L870.8 873.1 L871.7 880.6 L872.6 878.1 L873.5 880.6 L874.4 880.2 L875.3 883 L876.2 886 L877.1 884.2 L878 887.4 L878.9 887 L879.8 887.3 L880.7 888.8 L881.6 886.7 L882.5 888.5 L883.4 888 L884.3 884.1 L885.2 882.1 L886.1 879.5 L887 887 L887.9 896.5 L888.8 901.6 L889.7 902 L890.6 901.6 L891.5 900.6 L892.4 897.1 L893.3 899.1 L894.2 895 L895.1 895.5 L896 894.8 L896.9 900 L897.8 897.9 L898.7 902.9 L899.6 903.2 L900.5 902.5 L901.4 901.8 L902.3 902.5 L903.2 901.6 L904.1 899.1 L905 898.4 L905.9 894.6 L906.8 892.7 L907.7 892.8 L908.6 899.2 L909.5 903.5 L910.4 902.2 L911.3 902.6 L912.2 906.7 L913.1 904 L914 909.4 L914.9 915.7 L915.8 921.2 L916.7 920 L917.6 915 L918.5 902.2 L919.4 889.9 L920.3 895.6 L921.2 898.1 L922.1 904.7 L923 902.8 L923.9 903.9 L924.8 907.7 L925.7 905.2 L926.6 898.8 L927.5 901.5 L928.4 898 L929.3 903.7 L930.2 915.4 L931.1 922.3 L932 916.1 L932.9 910.5 L933.8 917.2 L934.7 911.4 L935.6 912.5 L936.5 905.7 L937.4 895.5 L938.3 908.7 L939.2 911.1 L940.1 908.2 L941 910.8 L941.9 904.3 L942.8 891 L943.7 897.3 L944.6 898.8 L945.5 900.6 L946.4 900.8 L947.3 904.9 L948.2 904.9 L949.1 901 L950 904.5 L950.9 905 L951.8 907.4 L952.7 907 L953.6 907 L954.5 909.7 L955.4 900.8 L956.3 899.4 L957.2 896.2 L958.1 892.1 L959 897.9 L959.9 895.4 L960.8 900.8 L961.7 903.7 L962.6 904.2 L963.5 902.6 L964.4 908.9 L965.3 907.7 L966.2 903.8 L967.1 911.7 L968 910.6 L968.9 907.2 L969.8 908.3 L970.7 899.5 L971.6 902.6 L972.5 903.4 L973.4 900.7 L974.3 900.2 L975.2 893 L976.1 895.4 L977 911.6 L977.9 918.6 L978.8 920.4 L979.7 920.3 L980.6 915.4 L981.5 915.6 L982.4 918.6 L983.3 912.8 L984.2 911.5 L985.1 900.6 L986 897 L986.9 894.7 L987.8 897.9 L988.7 901.8 L989.6 904.7 L990.5 914.3 L991.4 918.9 L992.3 913.2 L993.2 907.6 L994.1 902.3 L995 894.8 L995.9 898.4 L996.8 906.6 L997.7 902.1 L998.6 904.8 L999.5 904.8 L1000.4 903.8 L1001.3 909.4 L1002.2 916.5 L1003.1 917.7 L1004 920.2 L1004.9 911.4 L1005.8 910.5 L1006.7 901.1 L1007.6 901.9 L1008.5 907.2 L1009.4 884.3 L1010.3 878 L1011.2 888.9 L1012.1 900.2 L1013 921.6 L1013.9 929 L1014.8 914.1 L1015.7 894.8 L1016.6 886.5 L1017.5 899.4 L1018.4 897.4 L1019.3 894.5 L1020.2 894.3 L1021.1 904.2 L1022 907.5 L1022.9 916.9 L1023.8 908.1 L1024.7 910.2 L1025.6 906 L1026.5 915.6 L1027.4 914.8 L1028.3 907.5 L1029.2 897.3 L1030.1 900.1 L1031 902.1 L1031.9 927.8 L1032.8 925.7 L1033.7 923.1 L1034.6 921.7 L1035.5 905.4 L1036.4 907.4 L1037.3 893.1 L1038.2 886.8 L1039.1 914.1 L1040 932 L1040.9 917 L1041.8 910.1 L1042.7 921.7 L1043.6 917.2 L1044.5 922.6 L1045.4 911 L1046.3 911.6 L1047.2 916.2 L1048.1 910.2 L1049 914.6 L1049.9 909.4 L1050.8 900.5 L1051.7 906.4 L1052.6 905.9 L1053.5 907.1 L1054.4 909 L1055.3 906 L1056.2 909.6 L1057.1 912.3 L1058 917.9 L1058.9 917.3 L1059.8 914.4 L1060.7 909.5 L1061.6 914.8 L1062.5 917 L1063.4 920.6 L1064.3 924.4 L1065.2 922.9 L1066.1 922.6 L1067 916.4 L1067.9 917.5 L1068.8 916.5 L1069.7 913.1 L1070.6 917.2 L1071.5 918.4 L1072.4 918 L1073.3 918 L1074.2 922.9 L1075.1 919.3 L1076 923.6 L1076.9 925.9 L1077.8 925.3 L1078.7 922.4 L1079.6 919.6 L1080.5 917.4 L1081.4 919.3 L1082.3 911.9 L1083.2 917.5 L1084.1 914.7 L1085 901.7 L1085.9 904.4 L1086.8 896.6 L1087.7 906.6 L1088.6 905.3 L1089.5 915.2 L1090.4 922.3 L1091.3 917 L1092.2 922 L1093.1 904 L1094 891.5 L1094.9 881 L1095.8 894.5 L1096.7 906.8 L1097.6 911.4 L1098.5 907.5 L1099.4 893.8 L1100.3 910.1 L1101.2 905.6 L1102.1 915.2 L1103 911.1 L1103.9 898.5 L1104.8 895.6 L1105.7 886.5 L1106.6 896.5 L1107.5 902 L1108.4 889.6 L1109.3 885.5 L1110.2 872.5 L1111.1 880.3 L1112 889.5 L1112.9 883.7 L1113.8 881.8 L1114.7 882.6 L1115.6 873 L1116.5 885.1 L1117.4 899.4 L1118.3 896.1 L1119.2 895.6 L1120.1 895.7 L1121 891 L1121.9 915 L1122.8 909.4 L1123.7 901.6 L1124.6 902 L1125.5 897.1 L1126.4 890 L1127.3 887.3 L1128.2 888 L1129.1 885.5 L1130 894.3 L1130.9 898.1 L1131.8 903.3 L1132.7 903 L1133.6 902.5 L1134.5 902.7 L1135.4 904.6 L1136.3 908.6 L1137.2 911.9 L1138.1 914.3 L1139 914.7 L1139.9 912.3 L1140.8 913.9" stroke-dasharray="44 19" stroke-dashoffset="50" stroke-linejoin="miter" stroke-miterlimit="3"/>
</g></defs>
<use href="#cv" x="-1" y="-1.5"/>
<use href="#cv" x="-1" y="-0.5"/>
<use href="#cv" x="-1" y="0.5"/>
<use href="#cv" x="-1" y="1.5"/>
<use href="#cv" x="0" y="-1.5"/>
<use href="#cv" x="0" y="-0.5"/>
<use href="#cv" x="0" y="0.5"/>
<use href="#cv" x="0" y="1.5"/>
<use href="#cv" x="1" y="-1.5"/>
<use href="#cv" x="1" y="-0.5"/>
<use href="#cv" x="1" y="0.5"/>
<use href="#cv" x="1" y="1.5"/>
<g fill="#000">
<rect x="525" y="318" width="3" height="4" rx="1.1" ry="1.3"/>
<rect x="535" y="325" width="3" height="4" rx="1.1" ry="1.3"/>
<rect x="546" y="333" width="3" height="4" rx="1.1" ry="1.3"/>
<rect x="555" y="344" width="3" height="4" rx="1.1" ry="1.3"/>
<rect x="564" y="357" width="3" height="4" rx="1.1" ry="1.3"/>
<rect x="573" y="371" width="3" height="4" rx="1.1" ry="1.3"/>
<rect x="581" y="385" width="3" height="4" rx="1.1" ry="1.3"/>
<rect x="588" y="398" width="3" height="4" rx="1.1" ry="1.3"/>
<rect x="594" y="412" width="3" height="4" rx="1.1" ry="1.3"/>
<rect x="601" y="426" width="3" height="4" rx="1.1" ry="1.3"/>
<rect x="608" y="440" width="3" height="4" rx="1.1" ry="1.3"/>
<rect x="614" y="453" width="3" height="4" rx="1.1" ry="1.3"/>
<rect x="620" y="467" width="3" height="4" rx="1.1" ry="1.3"/>
<rect x="625" y="481" width="3" height="4" rx="1.1" ry="1.3"/>
<rect x="631" y="495" width="3" height="4" rx="1.1" ry="1.3"/>
<rect x="636" y="509" width="3" height="4" rx="1.1" ry="1.3"/>
<rect x="641" y="523" width="3" height="4" rx="1.1" ry="1.3"/>
<rect x="646" y="537" width="3" height="4" rx="1.1" ry="1.3"/>
<rect x="651" y="550" width="3" height="4" rx="1.1" ry="1.3"/>
<rect x="656" y="564" width="3" height="4" rx="1.1" ry="1.3"/>
<rect x="661" y="578" width="3" height="4" rx="1.1" ry="1.3"/>
<rect x="666" y="592" width="3" height="4" rx="1.1" ry="1.3"/>
<rect x="672" y="605" width="3" height="4" rx="1.1" ry="1.3"/>
<rect x="677" y="619" width="3" height="4" rx="1.1" ry="1.3"/>
<rect x="682" y="633" width="3" height="4" rx="1.1" ry="1.3"/>
<rect x="687" y="646" width="3" height="4" rx="1.1" ry="1.3"/>
<rect x="692" y="660" width="3" height="4" rx="1.1" ry="1.3"/>
<rect x="697" y="674" width="3" height="4" rx="1.1" ry="1.3"/>
<rect x="702" y="688" width="3" height="4" rx="1.1" ry="1.3"/>
<rect x="707" y="701" width="3" height="4" rx="1.1" ry="1.3"/>
<rect x="712" y="716" width="3" height="4" rx="1.1" ry="1.3"/>
<rect x="717" y="729" width="3" height="4" rx="1.1" ry="1.3"/>
<rect x="723" y="743" width="3" height="4" rx="1.1" ry="1.3"/>
<rect x="730" y="757" width="3" height="4" rx="1.1" ry="1.3"/>
<rect x="738" y="771" width="3" height="4" rx="1.1" ry="1.3"/>
<rect x="748" y="784" width="3" height="4" rx="1.1" ry="1.3"/>
<rect x="758" y="796" width="3" height="4" rx="1.1" ry="1.3"/>
<rect x="767" y="808" width="3" height="4" rx="1.1" ry="1.3"/>
<rect x="776" y="818" width="3" height="4" rx="1.1" ry="1.3"/>
<rect x="786" y="829" width="3" height="4" rx="1.1" ry="1.3"/>
<rect x="796" y="839" width="3" height="4" rx="1.1" ry="1.3"/>
<rect x="806" y="850" width="3" height="4" rx="1.1" ry="1.3"/>
<rect x="817" y="862" width="3" height="4" rx="1.1" ry="1.3"/>
<rect x="826" y="872" width="3" height="4" rx="1.1" ry="1.3"/>
<rect x="837" y="883" width="3" height="4" rx="1.1" ry="1.3"/>
<rect x="847" y="893" width="3" height="4" rx="1.1" ry="1.3"/>
<rect x="857" y="903" width="3" height="4" rx="1.1" ry="1.3"/>
<rect x="867" y="914" width="3" height="4" rx="1.1" ry="1.3"/>
<rect x="877" y="923" width="3" height="4" rx="1.1" ry="1.3"/>
<rect x="888" y="933" width="3" height="4" rx="1.1" ry="1.3"/>
<rect x="898" y="943" width="3" height="4" rx="1.1" ry="1.3"/>
<rect x="908" y="953" width="3" height="4" rx="1.1" ry="1.3"/>
<rect x="918" y="963" width="3" height="4" rx="1.1" ry="1.3"/>
<rect x="929" y="973" width="3" height="4" rx="1.1" ry="1.3"/>
<rect x="939" y="983" width="3" height="4" rx="1.1" ry="1.3"/>
<rect x="950" y="992" width="3" height="4" rx="1.1" ry="1.3"/>
<rect x="959" y="1000" width="3" height="4" rx="1.1" ry="1.3"/>
<rect x="970" y="1009" width="3" height="4" rx="1.1" ry="1.3"/>
<rect x="981" y="1017" width="3" height="4" rx="1.1" ry="1.3"/>
<rect x="992" y="1026" width="3" height="4" rx="1.1" ry="1.3"/>
<rect x="1004" y="1035" width="3" height="4" rx="1.1" ry="1.3"/>
<rect x="1015" y="1042" width="3" height="4" rx="1.1" ry="1.3"/>
<rect x="1026" y="1050" width="3" height="4" rx="1.1" ry="1.3"/>
<rect x="1037" y="1058" width="3" height="4" rx="1.1" ry="1.3"/>
<rect x="1048" y="1065" width="3" height="4" rx="1.1" ry="1.3"/>
<rect x="1059" y="1071" width="3" height="4" rx="1.1" ry="1.3"/>
<rect x="1070" y="1076" width="3" height="4" rx="1.1" ry="1.3"/>
<rect x="1082" y="1082" width="3" height="4" rx="1.1" ry="1.3"/>
<rect x="1092" y="1086" width="3" height="4" rx="1.1" ry="1.3"/>
<rect x="1103" y="1090" width="3" height="4" rx="1.1" ry="1.3"/>
<rect x="1115" y="1093" width="3" height="4" rx="1.1" ry="1.3"/>
<rect x="1127" y="1097" width="3" height="4" rx="1.1" ry="1.3"/>
<rect x="387" y="1083" width="3" height="4" rx="1.1" ry="1.3"/>
<rect x="388" y="1077" width="3" height="4" rx="1.1" ry="1.3"/>
<rect x="389" y="1063" width="3" height="4" rx="1.1" ry="1.3"/>
<rect x="391" y="1050" width="3" height="4" rx="1.1" ry="1.3"/>
<rect x="393" y="1037" width="3" height="4" rx="1.1" ry="1.3"/>
<rect x="394" y="1023" width="3" height="4" rx="1.1" ry="1.3"/>
<rect x="398" y="1018" width="3" height="4" rx="1.1" ry="1.3"/>
<rect x="402" y="1006" width="3" height="4" rx="1.1" ry="1.3"/>
<rect x="409" y="993" width="3" height="4" rx="1.1" ry="1.3"/>
<rect x="414" y="980" width="3" height="4" rx="1.1" ry="1.3"/>
<rect x="420" y="971" width="3" height="4" rx="1.1" ry="1.3"/>
<rect x="429" y="961" width="3" height="4" rx="1.1" ry="1.3"/>
<rect x="435" y="950" width="3" height="4" rx="1.1" ry="1.3"/>
<rect x="445" y="944" width="3" height="4" rx="1.1" ry="1.3"/>
<rect x="453" y="950" width="3" height="4" rx="1.1" ry="1.3"/>
<rect x="463" y="953" width="3" height="4" rx="1.1" ry="1.3"/>
<rect x="473" y="956" width="3" height="4" rx="1.1" ry="1.3"/>
<rect x="482" y="963" width="3" height="4" rx="1.1" ry="1.3"/>
<rect x="491" y="957" width="3" height="4" rx="1.1" ry="1.3"/>
<rect x="500" y="951" width="3" height="4" rx="1.1" ry="1.3"/>
<rect x="507" y="938" width="3" height="4" rx="1.1" ry="1.3"/>
<rect x="514" y="925" width="3" height="4" rx="1.1" ry="1.3"/>
<rect x="519" y="912" width="3" height="4" rx="1.1" ry="1.3"/>
<rect x="522" y="899" width="3" height="4" rx="1.1" ry="1.3"/>
<rect x="524" y="885" width="3" height="4" rx="1.1" ry="1.3"/>
<rect x="527" y="871" width="3" height="4" rx="1.1" ry="1.3"/>
<rect x="531" y="857" width="3" height="4" rx="1.1" ry="1.3"/>
<rect x="533" y="843" width="3" height="4" rx="1.1" ry="1.3"/>
<rect x="535" y="830" width="3" height="4" rx="1.1" ry="1.3"/>
<rect x="537" y="816" width="3" height="4" rx="1.1" ry="1.3"/>
<rect x="538" y="802" width="3" height="4" rx="1.1" ry="1.3"/>
<rect x="541" y="788" width="3" height="4" rx="1.1" ry="1.3"/>
<rect x="542" y="774" width="3" height="4" rx="1.1" ry="1.3"/>
<rect x="544" y="761" width="3" height="4" rx="1.1" ry="1.3"/>
<rect x="546" y="747" width="3" height="4" rx="1.1" ry="1.3"/>
<rect x="547" y="733" width="3" height="4" rx="1.1" ry="1.3"/>
<rect x="549" y="720" width="3" height="4" rx="1.1" ry="1.3"/>
<rect x="550" y="706" width="3" height="4" rx="1.1" ry="1.3"/>
<rect x="551" y="692" width="3" height="4" rx="1.1" ry="1.3"/>
<rect x="552" y="678" width="3" height="4" rx="1.1" ry="1.3"/>
<rect x="554" y="664" width="3" height="4" rx="1.1" ry="1.3"/>
<rect x="555" y="651" width="3" height="4" rx="1.1" ry="1.3"/>
<rect x="556" y="637" width="3" height="4" rx="1.1" ry="1.3"/>
<rect x="558" y="623" width="3" height="4" rx="1.1" ry="1.3"/>
<rect x="560" y="609" width="3" height="4" rx="1.1" ry="1.3"/>
<rect x="561" y="595" width="3" height="4" rx="1.1" ry="1.3"/>
<rect x="562" y="582" width="3" height="4" rx="1.1" ry="1.3"/>
<rect x="564" y="568" width="3" height="4" rx="1.1" ry="1.3"/>
<rect x="565" y="554" width="3" height="4" rx="1.1" ry="1.3"/>
<rect x="567" y="540" width="3" height="4" rx="1.1" ry="1.3"/>
<rect x="568" y="526" width="3" height="4" rx="1.1" ry="1.3"/>
<rect x="570" y="513" width="3" height="4" rx="1.1" ry="1.3"/>
<rect x="572" y="499" width="3" height="4" rx="1.1" ry="1.3"/>
<rect x="573" y="485" width="3" height="4" rx="1.1" ry="1.3"/>
<rect x="576" y="472" width="3" height="4" rx="1.1" ry="1.3"/>
<rect x="579" y="458" width="3" height="4" rx="1.1" ry="1.3"/>
<rect x="581" y="444" width="3" height="4" rx="1.1" ry="1.3"/>
<rect x="626" y="237" width="3" height="4" rx="1.1" ry="1.3"/>
<rect x="628" y="224" width="3" height="4" rx="1.1" ry="1.3"/>
<rect x="630" y="210" width="3" height="4" rx="1.1" ry="1.3"/>
<rect x="632" y="196" width="3" height="4" rx="1.1" ry="1.3"/>
<rect x="633" y="182" width="3" height="4" rx="1.1" ry="1.3"/>
<rect x="635" y="169" width="3" height="4" rx="1.1" ry="1.3"/>
<rect x="640" y="155" width="3" height="4" rx="1.1" ry="1.3"/>
<rect x="642" y="141" width="3" height="4" rx="1.1" ry="1.3"/>
<rect x="647" y="143" width="3" height="4" rx="1.1" ry="1.3"/>
<rect x="654" y="155" width="3" height="4" rx="1.1" ry="1.3"/>
<rect x="658" y="168" width="3" height="4" rx="1.1" ry="1.3"/>
<rect x="661" y="182" width="3" height="4" rx="1.1" ry="1.3"/>
<rect x="666" y="193" width="3" height="4" rx="1.1" ry="1.3"/>
<rect x="675" y="199" width="3" height="4" rx="1.1" ry="1.3"/>
<rect x="689" y="164" width="3" height="4" rx="1.1" ry="1.3"/>
<rect x="693" y="150" width="3" height="4" rx="1.1" ry="1.3"/>
<rect x="695" y="136" width="3" height="4" rx="1.1" ry="1.3"/>
<rect x="697" y="123" width="3" height="4" rx="1.1" ry="1.3"/>
<rect x="704" y="116" width="3" height="4" rx="1.1" ry="1.3"/>
<rect x="707" y="130" width="3" height="4" rx="1.1" ry="1.3"/>
<rect x="708" y="144" width="3" height="4" rx="1.1" ry="1.3"/>
<rect x="709" y="157" width="3" height="4" rx="1.1" ry="1.3"/>
<rect x="711" y="171" width="3" height="4" rx="1.1" ry="1.3"/>
<rect x="712" y="185" width="3" height="4" rx="1.1" ry="1.3"/>
<rect x="714" y="199" width="3" height="4" rx="1.1" ry="1.3"/>
<rect x="714" y="212" width="3" height="4" rx="1.1" ry="1.3"/>
<rect x="715" y="226" width="3" height="4" rx="1.1" ry="1.3"/>
<rect x="716" y="240" width="3" height="4" rx="1.1" ry="1.3"/>
<rect x="717" y="254" width="3" height="4" rx="1.1" ry="1.3"/>
<rect x="719" y="268" width="3" height="4" rx="1.1" ry="1.3"/>
<rect x="720" y="281" width="3" height="4" rx="1.1" ry="1.3"/>
<rect x="720" y="295" width="3" height="4" rx="1.1" ry="1.3"/>
<rect x="721" y="309" width="3" height="4" rx="1.1" ry="1.3"/>
<rect x="722" y="323" width="3" height="4" rx="1.1" ry="1.3"/>
<rect x="722" y="336" width="3" height="4" rx="1.1" ry="1.3"/>
<rect x="723" y="351" width="3" height="4" rx="1.1" ry="1.3"/>
<rect x="724" y="364" width="3" height="4" rx="1.1" ry="1.3"/>
<rect x="725" y="378" width="3" height="4" rx="1.1" ry="1.3"/>
<rect x="726" y="392" width="3" height="4" rx="1.1" ry="1.3"/>
<rect x="727" y="406" width="3" height="4" rx="1.1" ry="1.3"/>
<rect x="728" y="419" width="3" height="4" rx="1.1" ry="1.3"/>
<rect x="729" y="433" width="3" height="4" rx="1.1" ry="1.3"/>
<rect x="730" y="447" width="3" height="4" rx="1.1" ry="1.3"/>
<rect x="731" y="461" width="3" height="4" rx="1.1" ry="1.3"/>
<rect x="732" y="475" width="3" height="4" rx="1.1" ry="1.3"/>
<rect x="733" y="488" width="3" height="4" rx="1.1" ry="1.3"/>
<rect x="733" y="502" width="3" height="4" rx="1.1" ry="1.3"/>
<rect x="735" y="516" width="3" height="4" rx="1.1" ry="1.3"/>
<rect x="735" y="530" width="3" height="4" rx="1.1" ry="1.3"/>
<rect x="737" y="543" width="3" height="4" rx="1.1" ry="1.3"/>
<rect x="737" y="557" width="3" height="4" rx="1.1" ry="1.3"/>
<rect x="739" y="571" width="3" height="4" rx="1.1" ry="1.3"/>
<rect x="740" y="585" width="3" height="4" rx="1.1" ry="1.3"/>
<rect x="742" y="598" width="3" height="4" rx="1.1" ry="1.3"/>
<rect x="744" y="612" width="3" height="4" rx="1.1" ry="1.3"/>
<rect x="747" y="626" width="3" height="4" rx="1.1" ry="1.3"/>
<rect x="749" y="639" width="3" height="4" rx="1.1" ry="1.3"/>
<rect x="753" y="653" width="3" height="4" rx="1.1" ry="1.3"/>
<rect x="756" y="667" width="3" height="4" rx="1.1" ry="1.3"/>
<rect x="762" y="680" width="3" height="4" rx="1.1" ry="1.3"/>
<rect x="769" y="691" width="3" height="4" rx="1.1" ry="1.3"/>
<rect x="774" y="704" width="3" height="4" rx="1.1" ry="1.3"/>
<rect x="782" y="711" width="3" height="4" rx="1.1" ry="1.3"/>
<rect x="790" y="718" width="3" height="4" rx="1.1" ry="1.3"/>
<rect x="799" y="715" width="3" height="4" rx="1.1" ry="1.3"/>
<rect x="805" y="717" width="3" height="4" rx="1.1" ry="1.3"/>
<rect x="814" y="716" width="3" height="4" rx="1.1" ry="1.3"/>
<rect x="822" y="718" width="3" height="4" rx="1.1" ry="1.3"/>
<rect x="830" y="720" width="3" height="4" rx="1.1" ry="1.3"/>
<rect x="836" y="731" width="3" height="4" rx="1.1" ry="1.3"/>
<rect x="842" y="732" width="3" height="4" rx="1.1" ry="1.3"/>
<rect x="848" y="741" width="3" height="4" rx="1.1" ry="1.3"/>
<rect x="857" y="740" width="3" height="4" rx="1.1" ry="1.3"/>
<rect x="867" y="740" width="3" height="4" rx="1.1" ry="1.3"/>
<rect x="874" y="740" width="3" height="4" rx="1.1" ry="1.3"/>
<rect x="879" y="738" width="3" height="4" rx="1.1" ry="1.3"/>
<rect x="889" y="738" width="3" height="4" rx="1.1" ry="1.3"/>
<rect x="899" y="743" width="3" height="4" rx="1.1" ry="1.3"/>
<rect x="906" y="754" width="3" height="4" rx="1.1" ry="1.3"/>
<rect x="912" y="743" width="3" height="4" rx="1.1" ry="1.3"/>
<rect x="915" y="756" width="3" height="4" rx="1.1" ry="1.3"/>
<rect x="922" y="758" width="3" height="4" rx="1.1" ry="1.3"/>
<rect x="931" y="764" width="3" height="4" rx="1.1" ry="1.3"/>
<rect x="936" y="778" width="3" height="4" rx="1.1" ry="1.3"/>
<rect x="944" y="780" width="3" height="4" rx="1.1" ry="1.3"/>
<rect x="953" y="786" width="3" height="4" rx="1.1" ry="1.3"/>
<rect x="961" y="792" width="3" height="4" rx="1.1" ry="1.3"/>
<rect x="956" y="800" width="3" height="4" rx="1.1" ry="1.3"/>
<rect x="967" y="801" width="3" height="4" rx="1.1" ry="1.3"/>
<rect x="973" y="806" width="3" height="4" rx="1.1" ry="1.3"/>
<rect x="978" y="811" width="3" height="4" rx="1.1" ry="1.3"/>
<rect x="983" y="817" width="3" height="4" rx="1.1" ry="1.3"/>
<rect x="994" y="819" width="3" height="4" rx="1.1" ry="1.3"/>
<rect x="998" y="832" width="3" height="4" rx="1.1" ry="1.3"/>
<rect x="1008" y="834" width="3" height="4" rx="1.1" ry="1.3"/>
<rect x="1014" y="845" width="3" height="4" rx="1.1" ry="1.3"/>
<rect x="1021" y="854" width="3" height="4" rx="1.1" ry="1.3"/>
<rect x="1027" y="854" width="3" height="4" rx="1.1" ry="1.3"/>
<rect x="1034" y="847" width="3" height="4" rx="1.1" ry="1.3"/>
<rect x="1042" y="848" width="3" height="4" rx="1.1" ry="1.3"/>
<rect x="1046" y="862" width="3" height="4" rx="1.1" ry="1.3"/>
<rect x="1048" y="876" width="3" height="4" rx="1.1" ry="1.3"/>
<rect x="1054" y="888" width="3" height="4" rx="1.1" ry="1.3"/>
<rect x="1059" y="901" width="3" height="4" rx="1.1" ry="1.3"/>
<rect x="1064" y="914" width="3" height="4" rx="1.1" ry="1.3"/>
<rect x="1071" y="926" width="3" height="4" rx="1.1" ry="1.3"/>
<rect x="1080" y="938" width="3" height="4" rx="1.1" ry="1.3"/>
<rect x="1089" y="945" width="3" height="4" rx="1.1" ry="1.3"/>
<rect x="1097" y="954" width="3" height="4" rx="1.1" ry="1.3"/>
<rect x="1106" y="962" width="3" height="4" rx="1.1" ry="1.3"/>
<rect x="1112" y="974" width="3" height="4" rx="1.1" ry="1.3"/>
<rect x="1118" y="978" width="3" height="4" rx="1.1" ry="1.3"/>
<rect x="1126" y="985" width="3" height="4" rx="1.1" ry="1.3"/>
</g>
</svg>
</body></html>
